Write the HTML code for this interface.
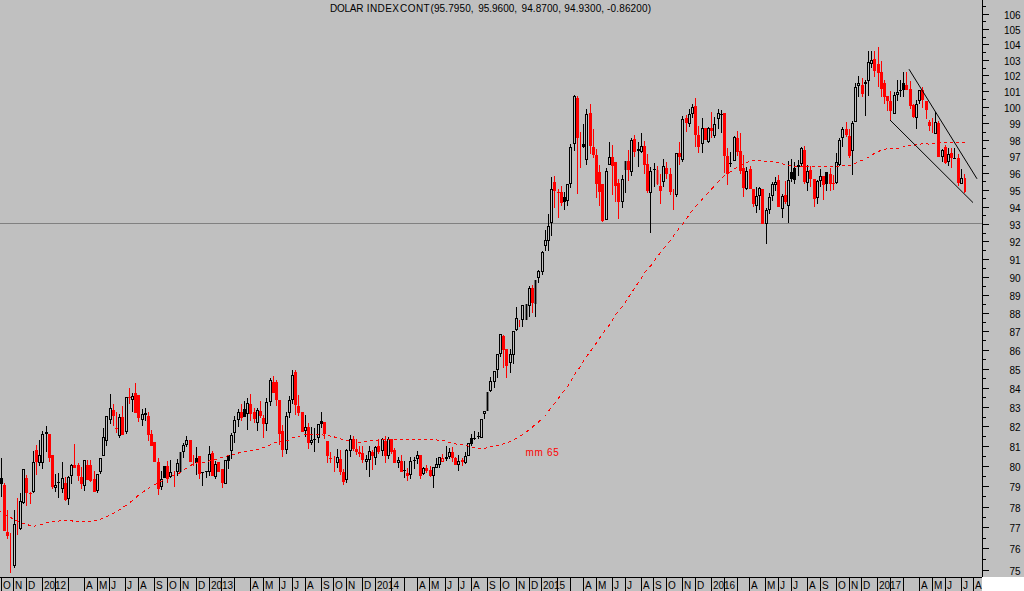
<!DOCTYPE html>
<html><head><meta charset="utf-8"><title>DOLAR INDEX CONT</title>
<style>
html,body{margin:0;padding:0;background:#c0c0c0;overflow:hidden}
body{width:1024px;height:591px;position:relative;font-family:"Liberation Sans",sans-serif}
.t{font-family:"Liberation Sans",sans-serif;font-size:10px;fill:#000}
</style></head><body>
<svg width="1024" height="591" viewBox="0 0 1024 591" style="position:absolute;left:0;top:0;display:block">
<rect x="0" y="0" width="1024" height="591" fill="#c0c0c0"/>
<rect x="982" y="577" width="42" height="14" fill="#ffffff"/>
<rect x="0" y="223" width="982" height="1" fill="#808080"/>
<rect x="1" y="458" width="1" height="39" fill="#000000"/>
<rect x="0" y="478" width="3" height="6" fill="#000000"/>
<rect x="4" y="483" width="1" height="48" fill="#ff0000"/>
<rect x="3" y="485" width="3" height="46" fill="#ff0000"/>
<rect x="7" y="510" width="1" height="29" fill="#ff0000"/>
<rect x="6" y="532" width="3" height="4" fill="#ff0000"/>
<rect x="10" y="533" width="1" height="40" fill="#ff0000"/>
<rect x="14" y="510" width="1" height="14" fill="#000000"/>
<rect x="14" y="566" width="1" height="2" fill="#000000"/>
<rect x="13.5" y="524.5" width="2" height="41" fill="#c0c0c0" stroke="#000000" stroke-width="1"/>
<rect x="17" y="498" width="1" height="37" fill="#ff0000"/>
<rect x="20" y="493" width="1" height="8" fill="#000000"/>
<rect x="20" y="529" width="1" height="1" fill="#000000"/>
<rect x="19.5" y="501.5" width="2" height="27" fill="#c0c0c0" stroke="#000000" stroke-width="1"/>
<rect x="23" y="503" width="1" height="1" fill="#000000"/>
<rect x="22.5" y="469.5" width="2" height="33" fill="#c0c0c0" stroke="#000000" stroke-width="1"/>
<rect x="26" y="475" width="1" height="31" fill="#ff0000"/>
<rect x="25" y="478" width="3" height="15" fill="#ff0000"/>
<rect x="30" y="492" width="1" height="12" fill="#ff0000"/>
<rect x="29" y="493" width="3" height="1" fill="#ff0000"/>
<rect x="33" y="451" width="1" height="11" fill="#000000"/>
<rect x="33" y="492" width="1" height="1" fill="#000000"/>
<rect x="32.5" y="462.5" width="2" height="29" fill="#c0c0c0" stroke="#000000" stroke-width="1"/>
<rect x="36" y="445" width="1" height="30" fill="#ff0000"/>
<rect x="35" y="450" width="3" height="12" fill="#ff0000"/>
<rect x="39" y="440" width="1" height="15" fill="#000000"/>
<rect x="39" y="463" width="1" height="3" fill="#000000"/>
<rect x="38.5" y="455.5" width="2" height="7" fill="#c0c0c0" stroke="#000000" stroke-width="1"/>
<rect x="42" y="431" width="1" height="3" fill="#000000"/>
<rect x="42" y="463" width="1" height="6" fill="#000000"/>
<rect x="41.5" y="434.5" width="2" height="28" fill="#c0c0c0" stroke="#000000" stroke-width="1"/>
<rect x="46" y="426" width="1" height="6" fill="#000000"/>
<rect x="46" y="434" width="1" height="18" fill="#000000"/>
<rect x="45.5" y="432.5" width="2" height="1" fill="#c0c0c0" stroke="#000000" stroke-width="1"/>
<rect x="49" y="434" width="1" height="28" fill="#ff0000"/>
<rect x="48" y="434" width="3" height="24" fill="#ff0000"/>
<rect x="52" y="455" width="1" height="34" fill="#ff0000"/>
<rect x="51" y="455" width="3" height="32" fill="#ff0000"/>
<rect x="55" y="474" width="1" height="11" fill="#000000"/>
<rect x="55" y="488" width="1" height="4" fill="#000000"/>
<rect x="54.5" y="485.5" width="2" height="2" fill="#c0c0c0" stroke="#000000" stroke-width="1"/>
<rect x="58" y="473" width="1" height="25" fill="#000000"/>
<rect x="57" y="482" width="3" height="1" fill="#000000"/>
<rect x="62" y="462" width="1" height="16" fill="#000000"/>
<rect x="62" y="489" width="1" height="4" fill="#000000"/>
<rect x="61.5" y="478.5" width="2" height="10" fill="#c0c0c0" stroke="#000000" stroke-width="1"/>
<rect x="65" y="477" width="1" height="24" fill="#ff0000"/>
<rect x="64" y="483" width="3" height="17" fill="#ff0000"/>
<rect x="68" y="476" width="1" height="1" fill="#000000"/>
<rect x="68" y="499" width="1" height="6" fill="#000000"/>
<rect x="67.5" y="477.5" width="2" height="21" fill="#c0c0c0" stroke="#000000" stroke-width="1"/>
<rect x="71" y="464" width="1" height="1" fill="#000000"/>
<rect x="71" y="476" width="1" height="8" fill="#000000"/>
<rect x="70.5" y="465.5" width="2" height="10" fill="#c0c0c0" stroke="#000000" stroke-width="1"/>
<rect x="74" y="444" width="1" height="24" fill="#ff0000"/>
<rect x="73" y="465" width="3" height="3" fill="#ff0000"/>
<rect x="78" y="463" width="1" height="18" fill="#ff0000"/>
<rect x="77" y="465" width="3" height="11" fill="#ff0000"/>
<rect x="81" y="467" width="1" height="22" fill="#ff0000"/>
<rect x="80" y="477" width="3" height="7" fill="#ff0000"/>
<rect x="84" y="486" width="1" height="5" fill="#000000"/>
<rect x="83.5" y="460.5" width="2" height="25" fill="#c0c0c0" stroke="#000000" stroke-width="1"/>
<rect x="87" y="460" width="1" height="20" fill="#ff0000"/>
<rect x="86" y="465" width="3" height="15" fill="#ff0000"/>
<rect x="90" y="460" width="1" height="22" fill="#ff0000"/>
<rect x="89" y="465" width="3" height="16" fill="#ff0000"/>
<rect x="94" y="471" width="1" height="21" fill="#ff0000"/>
<rect x="93" y="479" width="3" height="13" fill="#ff0000"/>
<rect x="97" y="491" width="1" height="2" fill="#000000"/>
<rect x="96.5" y="474.5" width="2" height="16" fill="#c0c0c0" stroke="#000000" stroke-width="1"/>
<rect x="100" y="472" width="1" height="2" fill="#000000"/>
<rect x="99.5" y="458.5" width="2" height="13" fill="#c0c0c0" stroke="#000000" stroke-width="1"/>
<rect x="103" y="428" width="1" height="9" fill="#000000"/>
<rect x="102.5" y="437.5" width="2" height="18" fill="#c0c0c0" stroke="#000000" stroke-width="1"/>
<rect x="106" y="441" width="1" height="5" fill="#000000"/>
<rect x="105.5" y="416.5" width="2" height="24" fill="#c0c0c0" stroke="#000000" stroke-width="1"/>
<rect x="110" y="394" width="1" height="14" fill="#000000"/>
<rect x="110" y="420" width="1" height="4" fill="#000000"/>
<rect x="109.5" y="408.5" width="2" height="11" fill="#c0c0c0" stroke="#000000" stroke-width="1"/>
<rect x="113" y="404" width="1" height="22" fill="#ff0000"/>
<rect x="112" y="410" width="3" height="6" fill="#ff0000"/>
<rect x="116" y="412" width="1" height="21" fill="#ff0000"/>
<rect x="115" y="428" width="3" height="1" fill="#ff0000"/>
<rect x="119" y="414" width="1" height="3" fill="#000000"/>
<rect x="119" y="436" width="1" height="2" fill="#000000"/>
<rect x="118.5" y="417.5" width="2" height="18" fill="#c0c0c0" stroke="#000000" stroke-width="1"/>
<rect x="122" y="406" width="1" height="29" fill="#ff0000"/>
<rect x="121" y="417" width="3" height="18" fill="#ff0000"/>
<rect x="126" y="432" width="1" height="2" fill="#000000"/>
<rect x="125.5" y="397.5" width="2" height="34" fill="#c0c0c0" stroke="#000000" stroke-width="1"/>
<rect x="129" y="388" width="1" height="16" fill="#ff0000"/>
<rect x="128" y="397" width="3" height="1" fill="#ff0000"/>
<rect x="132" y="393" width="1" height="3" fill="#000000"/>
<rect x="132" y="400" width="1" height="12" fill="#000000"/>
<rect x="131.5" y="396.5" width="2" height="3" fill="#c0c0c0" stroke="#000000" stroke-width="1"/>
<rect x="135" y="383" width="1" height="30" fill="#ff0000"/>
<rect x="134" y="393" width="3" height="20" fill="#ff0000"/>
<rect x="138" y="395" width="1" height="27" fill="#ff0000"/>
<rect x="137" y="395" width="3" height="23" fill="#ff0000"/>
<rect x="142" y="409" width="1" height="5" fill="#000000"/>
<rect x="142" y="420" width="1" height="6" fill="#000000"/>
<rect x="141.5" y="414.5" width="2" height="5" fill="#c0c0c0" stroke="#000000" stroke-width="1"/>
<rect x="145" y="408" width="1" height="13" fill="#000000"/>
<rect x="144" y="413" width="3" height="2" fill="#000000"/>
<rect x="148" y="412" width="1" height="29" fill="#ff0000"/>
<rect x="147" y="416" width="3" height="19" fill="#ff0000"/>
<rect x="151" y="430" width="1" height="16" fill="#ff0000"/>
<rect x="150" y="434" width="3" height="12" fill="#ff0000"/>
<rect x="154" y="442" width="1" height="20" fill="#ff0000"/>
<rect x="153" y="442" width="3" height="20" fill="#ff0000"/>
<rect x="158" y="458" width="1" height="37" fill="#ff0000"/>
<rect x="157" y="462" width="3" height="27" fill="#ff0000"/>
<rect x="161" y="471" width="1" height="8" fill="#000000"/>
<rect x="161" y="487" width="1" height="3" fill="#000000"/>
<rect x="160.5" y="479.5" width="2" height="7" fill="#c0c0c0" stroke="#000000" stroke-width="1"/>
<rect x="164" y="466" width="1" height="12" fill="#000000"/>
<rect x="163" y="466" width="3" height="12" fill="#000000"/>
<rect x="167" y="461" width="1" height="22" fill="#ff0000"/>
<rect x="166" y="466" width="3" height="13" fill="#ff0000"/>
<rect x="170" y="460" width="1" height="12" fill="#000000"/>
<rect x="170" y="477" width="1" height="1" fill="#000000"/>
<rect x="169.5" y="472.5" width="2" height="4" fill="#c0c0c0" stroke="#000000" stroke-width="1"/>
<rect x="174" y="471" width="1" height="16" fill="#ff0000"/>
<rect x="177" y="459" width="1" height="4" fill="#000000"/>
<rect x="177" y="472" width="1" height="4" fill="#000000"/>
<rect x="176.5" y="463.5" width="2" height="8" fill="#c0c0c0" stroke="#000000" stroke-width="1"/>
<rect x="180" y="452" width="1" height="20" fill="#000000"/>
<rect x="179.6" y="452" width="1.8" height="20" fill="#000000"/>
<rect x="183" y="443" width="1" height="2" fill="#000000"/>
<rect x="183" y="452" width="1" height="6" fill="#000000"/>
<rect x="182.5" y="445.5" width="2" height="6" fill="#c0c0c0" stroke="#000000" stroke-width="1"/>
<rect x="186" y="436" width="1" height="4" fill="#000000"/>
<rect x="186" y="445" width="1" height="2" fill="#000000"/>
<rect x="185.5" y="440.5" width="2" height="4" fill="#c0c0c0" stroke="#000000" stroke-width="1"/>
<rect x="190" y="440" width="1" height="22" fill="#ff0000"/>
<rect x="189" y="440" width="3" height="22" fill="#ff0000"/>
<rect x="193" y="455" width="1" height="11" fill="#ff0000"/>
<rect x="196" y="447" width="1" height="28" fill="#000000"/>
<rect x="195" y="458" width="3" height="5" fill="#000000"/>
<rect x="199" y="456" width="1" height="23" fill="#ff0000"/>
<rect x="198" y="456" width="3" height="18" fill="#ff0000"/>
<rect x="202" y="472" width="1" height="14" fill="#000000"/>
<rect x="201" y="472" width="3" height="1" fill="#000000"/>
<rect x="206" y="471" width="1" height="7" fill="#000000"/>
<rect x="205" y="471" width="3" height="1" fill="#000000"/>
<rect x="209" y="446" width="1" height="8" fill="#000000"/>
<rect x="209" y="472" width="1" height="4" fill="#000000"/>
<rect x="208.5" y="454.5" width="2" height="17" fill="#c0c0c0" stroke="#000000" stroke-width="1"/>
<rect x="212" y="451" width="1" height="25" fill="#ff0000"/>
<rect x="211" y="453" width="3" height="23" fill="#ff0000"/>
<rect x="215" y="461" width="1" height="3" fill="#000000"/>
<rect x="215" y="477" width="1" height="2" fill="#000000"/>
<rect x="214.5" y="464.5" width="2" height="12" fill="#c0c0c0" stroke="#000000" stroke-width="1"/>
<rect x="218" y="462" width="1" height="10" fill="#ff0000"/>
<rect x="217" y="462" width="3" height="10" fill="#ff0000"/>
<rect x="222" y="469" width="1" height="19" fill="#ff0000"/>
<rect x="221" y="469" width="3" height="14" fill="#ff0000"/>
<rect x="224.5" y="460.5" width="2" height="23" fill="#c0c0c0" stroke="#000000" stroke-width="1"/>
<rect x="228" y="455" width="1" height="14" fill="#000000"/>
<rect x="227" y="455" width="3" height="6" fill="#000000"/>
<rect x="231" y="433" width="1" height="2" fill="#000000"/>
<rect x="231" y="451" width="1" height="8" fill="#000000"/>
<rect x="230.5" y="435.5" width="2" height="15" fill="#c0c0c0" stroke="#000000" stroke-width="1"/>
<rect x="234" y="416" width="1" height="4" fill="#000000"/>
<rect x="234" y="433" width="1" height="10" fill="#000000"/>
<rect x="233.5" y="420.5" width="2" height="12" fill="#c0c0c0" stroke="#000000" stroke-width="1"/>
<rect x="238" y="409" width="1" height="3" fill="#000000"/>
<rect x="238" y="420" width="1" height="7" fill="#000000"/>
<rect x="237.5" y="412.5" width="2" height="7" fill="#c0c0c0" stroke="#000000" stroke-width="1"/>
<rect x="241" y="404" width="1" height="17" fill="#ff0000"/>
<rect x="240" y="412" width="3" height="6" fill="#ff0000"/>
<rect x="244" y="401" width="1" height="16" fill="#000000"/>
<rect x="243" y="409" width="3" height="8" fill="#000000"/>
<rect x="247" y="398" width="1" height="5" fill="#000000"/>
<rect x="247" y="414" width="1" height="16" fill="#000000"/>
<rect x="246.5" y="403.5" width="2" height="10" fill="#c0c0c0" stroke="#000000" stroke-width="1"/>
<rect x="250" y="394" width="1" height="27" fill="#ff0000"/>
<rect x="249" y="404" width="3" height="10" fill="#ff0000"/>
<rect x="254" y="408" width="1" height="15" fill="#ff0000"/>
<rect x="253" y="412" width="3" height="7" fill="#ff0000"/>
<rect x="257" y="408" width="1" height="2" fill="#000000"/>
<rect x="257" y="423" width="1" height="8" fill="#000000"/>
<rect x="256.5" y="410.5" width="2" height="12" fill="#c0c0c0" stroke="#000000" stroke-width="1"/>
<rect x="260" y="401" width="1" height="17" fill="#ff0000"/>
<rect x="259" y="411" width="3" height="5" fill="#ff0000"/>
<rect x="263" y="415" width="1" height="23" fill="#ff0000"/>
<rect x="262" y="418" width="3" height="6" fill="#ff0000"/>
<rect x="266" y="398" width="1" height="4" fill="#000000"/>
<rect x="266" y="424" width="1" height="7" fill="#000000"/>
<rect x="265.5" y="402.5" width="2" height="21" fill="#c0c0c0" stroke="#000000" stroke-width="1"/>
<rect x="270" y="378" width="1" height="2" fill="#000000"/>
<rect x="270" y="402" width="1" height="4" fill="#000000"/>
<rect x="269.5" y="380.5" width="2" height="21" fill="#c0c0c0" stroke="#000000" stroke-width="1"/>
<rect x="273" y="376" width="1" height="17" fill="#ff0000"/>
<rect x="272" y="382" width="3" height="11" fill="#ff0000"/>
<rect x="276" y="380" width="1" height="26" fill="#ff0000"/>
<rect x="275" y="382" width="3" height="18" fill="#ff0000"/>
<rect x="279" y="400" width="1" height="45" fill="#ff0000"/>
<rect x="278" y="400" width="3" height="34" fill="#ff0000"/>
<rect x="282" y="425" width="1" height="32" fill="#ff0000"/>
<rect x="281" y="431" width="3" height="19" fill="#ff0000"/>
<rect x="286" y="412" width="1" height="4" fill="#000000"/>
<rect x="286" y="450" width="1" height="4" fill="#000000"/>
<rect x="285.5" y="416.5" width="2" height="33" fill="#c0c0c0" stroke="#000000" stroke-width="1"/>
<rect x="289" y="396" width="1" height="4" fill="#000000"/>
<rect x="289" y="413" width="1" height="5" fill="#000000"/>
<rect x="288.5" y="400.5" width="2" height="12" fill="#c0c0c0" stroke="#000000" stroke-width="1"/>
<rect x="292" y="370" width="1" height="5" fill="#000000"/>
<rect x="292" y="400" width="1" height="4" fill="#000000"/>
<rect x="291.5" y="375.5" width="2" height="24" fill="#c0c0c0" stroke="#000000" stroke-width="1"/>
<rect x="295" y="370" width="1" height="45" fill="#ff0000"/>
<rect x="294" y="372" width="3" height="33" fill="#ff0000"/>
<rect x="298" y="395" width="1" height="21" fill="#ff0000"/>
<rect x="297" y="406" width="3" height="7" fill="#ff0000"/>
<rect x="302" y="412" width="1" height="20" fill="#ff0000"/>
<rect x="301" y="412" width="3" height="20" fill="#ff0000"/>
<rect x="305" y="415" width="1" height="12" fill="#000000"/>
<rect x="305" y="431" width="1" height="6" fill="#000000"/>
<rect x="304.5" y="427.5" width="2" height="3" fill="#c0c0c0" stroke="#000000" stroke-width="1"/>
<rect x="308" y="423" width="1" height="26" fill="#ff0000"/>
<rect x="307" y="427" width="3" height="16" fill="#ff0000"/>
<rect x="311" y="427" width="1" height="13" fill="#000000"/>
<rect x="311" y="443" width="1" height="2" fill="#000000"/>
<rect x="310.5" y="440.5" width="2" height="2" fill="#c0c0c0" stroke="#000000" stroke-width="1"/>
<rect x="314" y="428" width="1" height="24" fill="#000000"/>
<rect x="313" y="439" width="3" height="1" fill="#000000"/>
<rect x="318" y="438" width="1" height="5" fill="#000000"/>
<rect x="317.5" y="424.5" width="2" height="13" fill="#c0c0c0" stroke="#000000" stroke-width="1"/>
<rect x="321" y="412" width="1" height="16" fill="#000000"/>
<rect x="320" y="421" width="3" height="3" fill="#000000"/>
<rect x="324" y="422" width="1" height="17" fill="#ff0000"/>
<rect x="323" y="422" width="3" height="12" fill="#ff0000"/>
<rect x="327" y="441" width="1" height="22" fill="#ff0000"/>
<rect x="326" y="441" width="3" height="15" fill="#ff0000"/>
<rect x="330" y="452" width="1" height="11" fill="#ff0000"/>
<rect x="329" y="458" width="3" height="1" fill="#ff0000"/>
<rect x="334" y="456" width="1" height="16" fill="#ff0000"/>
<rect x="337" y="449" width="1" height="8" fill="#000000"/>
<rect x="337" y="463" width="1" height="5" fill="#000000"/>
<rect x="336.5" y="457.5" width="2" height="5" fill="#c0c0c0" stroke="#000000" stroke-width="1"/>
<rect x="340" y="450" width="1" height="25" fill="#ff0000"/>
<rect x="339" y="459" width="3" height="13" fill="#ff0000"/>
<rect x="343" y="469" width="1" height="16" fill="#ff0000"/>
<rect x="342" y="472" width="3" height="10" fill="#ff0000"/>
<rect x="346" y="449" width="1" height="1" fill="#000000"/>
<rect x="346" y="480" width="1" height="3" fill="#000000"/>
<rect x="345.5" y="450.5" width="2" height="29" fill="#c0c0c0" stroke="#000000" stroke-width="1"/>
<rect x="350" y="435" width="1" height="4" fill="#000000"/>
<rect x="350" y="451" width="1" height="6" fill="#000000"/>
<rect x="349.5" y="439.5" width="2" height="11" fill="#c0c0c0" stroke="#000000" stroke-width="1"/>
<rect x="353" y="436" width="1" height="15" fill="#ff0000"/>
<rect x="352" y="439" width="3" height="10" fill="#ff0000"/>
<rect x="356" y="439" width="1" height="16" fill="#ff0000"/>
<rect x="355" y="449" width="3" height="3" fill="#ff0000"/>
<rect x="359" y="446" width="1" height="11" fill="#ff0000"/>
<rect x="358" y="452" width="3" height="2" fill="#ff0000"/>
<rect x="362" y="446" width="1" height="17" fill="#ff0000"/>
<rect x="361" y="453" width="3" height="7" fill="#ff0000"/>
<rect x="366" y="455" width="1" height="4" fill="#000000"/>
<rect x="366" y="462" width="1" height="8" fill="#000000"/>
<rect x="365.5" y="459.5" width="2" height="2" fill="#c0c0c0" stroke="#000000" stroke-width="1"/>
<rect x="369" y="446" width="1" height="5" fill="#000000"/>
<rect x="369" y="460" width="1" height="17" fill="#000000"/>
<rect x="368.5" y="451.5" width="2" height="8" fill="#c0c0c0" stroke="#000000" stroke-width="1"/>
<rect x="372" y="450" width="1" height="20" fill="#ff0000"/>
<rect x="371" y="452" width="3" height="4" fill="#ff0000"/>
<rect x="375" y="446" width="1" height="1" fill="#000000"/>
<rect x="375" y="458" width="1" height="7" fill="#000000"/>
<rect x="374.5" y="447.5" width="2" height="10" fill="#c0c0c0" stroke="#000000" stroke-width="1"/>
<rect x="378" y="439" width="1" height="15" fill="#ff0000"/>
<rect x="377" y="446" width="3" height="6" fill="#ff0000"/>
<rect x="382" y="438" width="1" height="1" fill="#000000"/>
<rect x="382" y="451" width="1" height="5" fill="#000000"/>
<rect x="381.5" y="439.5" width="2" height="11" fill="#c0c0c0" stroke="#000000" stroke-width="1"/>
<rect x="385" y="436" width="1" height="27" fill="#ff0000"/>
<rect x="384" y="441" width="3" height="15" fill="#ff0000"/>
<rect x="388" y="437" width="1" height="2" fill="#000000"/>
<rect x="388" y="456" width="1" height="3" fill="#000000"/>
<rect x="387.5" y="439.5" width="2" height="16" fill="#c0c0c0" stroke="#000000" stroke-width="1"/>
<rect x="391" y="439" width="1" height="15" fill="#ff0000"/>
<rect x="390" y="439" width="3" height="13" fill="#ff0000"/>
<rect x="394" y="448" width="1" height="15" fill="#ff0000"/>
<rect x="393" y="450" width="3" height="13" fill="#ff0000"/>
<rect x="398" y="457" width="1" height="3" fill="#000000"/>
<rect x="398" y="463" width="1" height="5" fill="#000000"/>
<rect x="397.5" y="460.5" width="2" height="2" fill="#c0c0c0" stroke="#000000" stroke-width="1"/>
<rect x="401" y="455" width="1" height="17" fill="#ff0000"/>
<rect x="400" y="461" width="3" height="11" fill="#ff0000"/>
<rect x="404" y="461" width="1" height="17" fill="#000000"/>
<rect x="403" y="470" width="3" height="1" fill="#000000"/>
<rect x="407" y="468" width="1" height="13" fill="#ff0000"/>
<rect x="406" y="473" width="3" height="3" fill="#ff0000"/>
<rect x="410" y="457" width="1" height="4" fill="#000000"/>
<rect x="410" y="475" width="1" height="4" fill="#000000"/>
<rect x="409.5" y="461.5" width="2" height="13" fill="#c0c0c0" stroke="#000000" stroke-width="1"/>
<rect x="414" y="457" width="1" height="12" fill="#000000"/>
<rect x="413" y="460" width="3" height="1" fill="#000000"/>
<rect x="417" y="451" width="1" height="4" fill="#000000"/>
<rect x="417" y="459" width="1" height="5" fill="#000000"/>
<rect x="416.5" y="455.5" width="2" height="3" fill="#c0c0c0" stroke="#000000" stroke-width="1"/>
<rect x="420" y="455" width="1" height="24" fill="#ff0000"/>
<rect x="419" y="455" width="3" height="21" fill="#ff0000"/>
<rect x="423" y="467" width="1" height="1" fill="#000000"/>
<rect x="423" y="474" width="1" height="1" fill="#000000"/>
<rect x="422.5" y="468.5" width="2" height="5" fill="#c0c0c0" stroke="#000000" stroke-width="1"/>
<rect x="426" y="465" width="1" height="8" fill="#ff0000"/>
<rect x="425" y="468" width="3" height="3" fill="#ff0000"/>
<rect x="430" y="466" width="1" height="11" fill="#ff0000"/>
<rect x="429" y="470" width="3" height="6" fill="#ff0000"/>
<rect x="433" y="476" width="1" height="12" fill="#000000"/>
<rect x="432.5" y="467.5" width="2" height="8" fill="#c0c0c0" stroke="#000000" stroke-width="1"/>
<rect x="436" y="458" width="1" height="6" fill="#000000"/>
<rect x="435.5" y="464.5" width="2" height="3" fill="#c0c0c0" stroke="#000000" stroke-width="1"/>
<rect x="439" y="465" width="1" height="3" fill="#000000"/>
<rect x="438.5" y="457.5" width="2" height="7" fill="#c0c0c0" stroke="#000000" stroke-width="1"/>
<rect x="442" y="454" width="1" height="4" fill="#ff0000"/>
<rect x="441.5" y="458.5" width="2" height="3" fill="#c0c0c0" stroke="#ff0000" stroke-width="1"/>
<rect x="446" y="446" width="1" height="15" fill="#000000"/>
<rect x="445" y="457" width="3" height="2" fill="#000000"/>
<rect x="449" y="448" width="1" height="4" fill="#000000"/>
<rect x="449" y="457" width="1" height="2" fill="#000000"/>
<rect x="448.5" y="452.5" width="2" height="4" fill="#c0c0c0" stroke="#000000" stroke-width="1"/>
<rect x="452" y="447" width="1" height="15" fill="#ff0000"/>
<rect x="451" y="452" width="3" height="6" fill="#ff0000"/>
<rect x="455" y="457" width="1" height="8" fill="#ff0000"/>
<rect x="454" y="458" width="3" height="7" fill="#ff0000"/>
<rect x="458" y="455" width="1" height="6" fill="#000000"/>
<rect x="458" y="465" width="1" height="6" fill="#000000"/>
<rect x="457.5" y="461.5" width="2" height="3" fill="#c0c0c0" stroke="#000000" stroke-width="1"/>
<rect x="462" y="458" width="1" height="8" fill="#ff0000"/>
<rect x="461" y="460" width="3" height="2" fill="#ff0000"/>
<rect x="465" y="452" width="1" height="4" fill="#000000"/>
<rect x="465" y="463" width="1" height="1" fill="#000000"/>
<rect x="464.5" y="456.5" width="2" height="6" fill="#c0c0c0" stroke="#000000" stroke-width="1"/>
<rect x="467.5" y="443.5" width="2" height="12" fill="#c0c0c0" stroke="#000000" stroke-width="1"/>
<rect x="471" y="434" width="1" height="12" fill="#000000"/>
<rect x="470" y="438" width="3" height="6" fill="#000000"/>
<rect x="474" y="431" width="1" height="9" fill="#000000"/>
<rect x="473" y="438" width="3" height="1" fill="#000000"/>
<rect x="478" y="432" width="1" height="7" fill="#000000"/>
<rect x="477" y="436" width="3" height="1" fill="#000000"/>
<rect x="480.5" y="419.5" width="2" height="18" fill="#c0c0c0" stroke="#000000" stroke-width="1"/>
<rect x="484" y="414" width="1" height="5" fill="#000000"/>
<rect x="483.5" y="411.5" width="2" height="2" fill="#c0c0c0" stroke="#000000" stroke-width="1"/>
<rect x="487" y="392" width="1" height="19" fill="#000000"/>
<rect x="486.6" y="392" width="1.8" height="19" fill="#000000"/>
<rect x="490" y="377" width="1" height="4" fill="#000000"/>
<rect x="490" y="391" width="1" height="1" fill="#000000"/>
<rect x="489.5" y="381.5" width="2" height="9" fill="#c0c0c0" stroke="#000000" stroke-width="1"/>
<rect x="494" y="382" width="1" height="6" fill="#000000"/>
<rect x="493.5" y="371.5" width="2" height="10" fill="#c0c0c0" stroke="#000000" stroke-width="1"/>
<rect x="497" y="370" width="1" height="8" fill="#000000"/>
<rect x="496.5" y="354.5" width="2" height="15" fill="#c0c0c0" stroke="#000000" stroke-width="1"/>
<rect x="500" y="354" width="1" height="3" fill="#000000"/>
<rect x="499.5" y="334.5" width="2" height="19" fill="#c0c0c0" stroke="#000000" stroke-width="1"/>
<rect x="503" y="335" width="1" height="33" fill="#ff0000"/>
<rect x="502" y="336" width="3" height="14" fill="#ff0000"/>
<rect x="506" y="349" width="1" height="29" fill="#ff0000"/>
<rect x="505" y="349" width="3" height="17" fill="#ff0000"/>
<rect x="510" y="349" width="1" height="5" fill="#000000"/>
<rect x="510" y="363" width="1" height="10" fill="#000000"/>
<rect x="509.5" y="354.5" width="2" height="8" fill="#c0c0c0" stroke="#000000" stroke-width="1"/>
<rect x="513" y="355" width="1" height="9" fill="#000000"/>
<rect x="512.5" y="331.5" width="2" height="23" fill="#c0c0c0" stroke="#000000" stroke-width="1"/>
<rect x="516" y="307" width="1" height="11" fill="#000000"/>
<rect x="516" y="330" width="1" height="1" fill="#000000"/>
<rect x="515.5" y="318.5" width="2" height="11" fill="#c0c0c0" stroke="#000000" stroke-width="1"/>
<rect x="519" y="320" width="1" height="7" fill="#ff0000"/>
<rect x="522" y="320" width="1" height="7" fill="#000000"/>
<rect x="521.5" y="305.5" width="2" height="14" fill="#c0c0c0" stroke="#000000" stroke-width="1"/>
<rect x="526" y="304" width="1" height="16" fill="#000000"/>
<rect x="525.6" y="304" width="1.8" height="16" fill="#000000"/>
<rect x="529" y="286" width="1" height="2" fill="#000000"/>
<rect x="529" y="306" width="1" height="11" fill="#000000"/>
<rect x="528.5" y="288.5" width="2" height="17" fill="#c0c0c0" stroke="#000000" stroke-width="1"/>
<rect x="532" y="285" width="1" height="28" fill="#ff0000"/>
<rect x="531" y="288" width="3" height="15" fill="#ff0000"/>
<rect x="535" y="280" width="1" height="37" fill="#000000"/>
<rect x="534.6" y="280" width="1.8" height="24" fill="#000000"/>
<rect x="538" y="270" width="1" height="1" fill="#000000"/>
<rect x="538" y="278" width="1" height="5" fill="#000000"/>
<rect x="537.5" y="271.5" width="2" height="6" fill="#c0c0c0" stroke="#000000" stroke-width="1"/>
<rect x="542" y="251" width="1" height="1" fill="#000000"/>
<rect x="542" y="272" width="1" height="3" fill="#000000"/>
<rect x="541.5" y="252.5" width="2" height="19" fill="#c0c0c0" stroke="#000000" stroke-width="1"/>
<rect x="545" y="230" width="1" height="10" fill="#000000"/>
<rect x="545" y="246" width="1" height="5" fill="#000000"/>
<rect x="544.5" y="240.5" width="2" height="5" fill="#c0c0c0" stroke="#000000" stroke-width="1"/>
<rect x="548" y="214" width="1" height="12" fill="#000000"/>
<rect x="548" y="241" width="1" height="10" fill="#000000"/>
<rect x="547.5" y="226.5" width="2" height="14" fill="#c0c0c0" stroke="#000000" stroke-width="1"/>
<rect x="551" y="177" width="1" height="12" fill="#000000"/>
<rect x="551" y="223" width="1" height="13" fill="#000000"/>
<rect x="550.5" y="189.5" width="2" height="33" fill="#c0c0c0" stroke="#000000" stroke-width="1"/>
<rect x="554" y="176" width="1" height="32" fill="#ff0000"/>
<rect x="553" y="182" width="3" height="9" fill="#ff0000"/>
<rect x="558" y="189" width="1" height="29" fill="#ff0000"/>
<rect x="557" y="192" width="3" height="1" fill="#ff0000"/>
<rect x="561" y="186" width="1" height="20" fill="#ff0000"/>
<rect x="560" y="192" width="3" height="11" fill="#ff0000"/>
<rect x="564" y="192" width="1" height="18" fill="#000000"/>
<rect x="563" y="197" width="3" height="5" fill="#000000"/>
<rect x="567" y="201" width="1" height="5" fill="#000000"/>
<rect x="566.5" y="184.5" width="2" height="16" fill="#c0c0c0" stroke="#000000" stroke-width="1"/>
<rect x="570" y="144" width="1" height="3" fill="#000000"/>
<rect x="570" y="184" width="1" height="4" fill="#000000"/>
<rect x="569.5" y="147.5" width="2" height="36" fill="#c0c0c0" stroke="#000000" stroke-width="1"/>
<rect x="574" y="95" width="1" height="1" fill="#000000"/>
<rect x="574" y="144" width="1" height="7" fill="#000000"/>
<rect x="573.5" y="96.5" width="2" height="47" fill="#c0c0c0" stroke="#000000" stroke-width="1"/>
<rect x="577" y="96" width="1" height="98" fill="#ff0000"/>
<rect x="576" y="98" width="3" height="40" fill="#ff0000"/>
<rect x="580" y="132" width="1" height="36" fill="#ff0000"/>
<rect x="583" y="124" width="1" height="24" fill="#000000"/>
<rect x="582" y="144" width="3" height="3" fill="#000000"/>
<rect x="586" y="109" width="1" height="5" fill="#000000"/>
<rect x="586" y="160" width="1" height="5" fill="#000000"/>
<rect x="585.5" y="114.5" width="2" height="45" fill="#c0c0c0" stroke="#000000" stroke-width="1"/>
<rect x="590" y="104" width="1" height="50" fill="#ff0000"/>
<rect x="589" y="113" width="3" height="33" fill="#ff0000"/>
<rect x="593" y="129" width="1" height="29" fill="#ff0000"/>
<rect x="592" y="147" width="3" height="8" fill="#ff0000"/>
<rect x="596" y="149" width="1" height="49" fill="#ff0000"/>
<rect x="595" y="155" width="3" height="29" fill="#ff0000"/>
<rect x="599" y="165" width="1" height="41" fill="#ff0000"/>
<rect x="598" y="172" width="3" height="20" fill="#ff0000"/>
<rect x="602" y="184" width="1" height="38" fill="#ff0000"/>
<rect x="601" y="184" width="3" height="37" fill="#ff0000"/>
<rect x="606" y="168" width="1" height="3" fill="#000000"/>
<rect x="605.5" y="171.5" width="2" height="48" fill="#c0c0c0" stroke="#000000" stroke-width="1"/>
<rect x="609" y="142" width="1" height="15" fill="#000000"/>
<rect x="608.5" y="157.5" width="2" height="7" fill="#c0c0c0" stroke="#000000" stroke-width="1"/>
<rect x="612" y="145" width="1" height="50" fill="#ff0000"/>
<rect x="611" y="157" width="3" height="9" fill="#ff0000"/>
<rect x="615" y="162" width="1" height="40" fill="#ff0000"/>
<rect x="614" y="162" width="3" height="24" fill="#ff0000"/>
<rect x="618" y="179" width="1" height="40" fill="#ff0000"/>
<rect x="617" y="183" width="3" height="19" fill="#ff0000"/>
<rect x="622" y="175" width="1" height="4" fill="#000000"/>
<rect x="622" y="202" width="1" height="6" fill="#000000"/>
<rect x="621.5" y="179.5" width="2" height="22" fill="#c0c0c0" stroke="#000000" stroke-width="1"/>
<rect x="625" y="161" width="1" height="32" fill="#000000"/>
<rect x="624.6" y="161" width="1.8" height="9" fill="#000000"/>
<rect x="628" y="150" width="1" height="31" fill="#ff0000"/>
<rect x="627" y="161" width="3" height="9" fill="#ff0000"/>
<rect x="631" y="138" width="1" height="2" fill="#000000"/>
<rect x="631" y="172" width="1" height="4" fill="#000000"/>
<rect x="630.5" y="140.5" width="2" height="31" fill="#c0c0c0" stroke="#000000" stroke-width="1"/>
<rect x="634" y="135" width="1" height="22" fill="#ff0000"/>
<rect x="633" y="139" width="3" height="13" fill="#ff0000"/>
<rect x="638" y="142" width="1" height="25" fill="#000000"/>
<rect x="637" y="149" width="3" height="2" fill="#000000"/>
<rect x="641" y="133" width="1" height="13" fill="#000000"/>
<rect x="641" y="152" width="1" height="1" fill="#000000"/>
<rect x="640.5" y="146.5" width="2" height="5" fill="#c0c0c0" stroke="#000000" stroke-width="1"/>
<rect x="644" y="141" width="1" height="33" fill="#ff0000"/>
<rect x="643" y="146" width="3" height="19" fill="#ff0000"/>
<rect x="647" y="154" width="1" height="39" fill="#ff0000"/>
<rect x="646" y="164" width="3" height="27" fill="#ff0000"/>
<rect x="650" y="167" width="1" height="4" fill="#000000"/>
<rect x="650" y="193" width="1" height="40" fill="#000000"/>
<rect x="649.5" y="171.5" width="2" height="21" fill="#c0c0c0" stroke="#000000" stroke-width="1"/>
<rect x="654" y="163" width="1" height="24" fill="#000000"/>
<rect x="653" y="169" width="3" height="1" fill="#000000"/>
<rect x="657" y="166" width="1" height="19" fill="#ff0000"/>
<rect x="656.6" y="170" width="1.8" height="14" fill="#ff0000"/>
<rect x="660" y="174" width="1" height="30" fill="#ff0000"/>
<rect x="659" y="186" width="3" height="5" fill="#ff0000"/>
<rect x="663" y="159" width="1" height="7" fill="#000000"/>
<rect x="663" y="182" width="1" height="5" fill="#000000"/>
<rect x="662.5" y="166.5" width="2" height="15" fill="#c0c0c0" stroke="#000000" stroke-width="1"/>
<rect x="666" y="162" width="1" height="17" fill="#ff0000"/>
<rect x="665" y="168" width="3" height="6" fill="#ff0000"/>
<rect x="670" y="168" width="1" height="27" fill="#ff0000"/>
<rect x="669" y="174" width="3" height="18" fill="#ff0000"/>
<rect x="673" y="189" width="1" height="21" fill="#ff0000"/>
<rect x="676" y="195" width="1" height="2" fill="#000000"/>
<rect x="675.5" y="153.5" width="2" height="41" fill="#c0c0c0" stroke="#000000" stroke-width="1"/>
<rect x="679" y="142" width="1" height="23" fill="#ff0000"/>
<rect x="678" y="153" width="3" height="4" fill="#ff0000"/>
<rect x="682" y="116" width="1" height="3" fill="#000000"/>
<rect x="682" y="160" width="1" height="2" fill="#000000"/>
<rect x="681.5" y="119.5" width="2" height="40" fill="#c0c0c0" stroke="#000000" stroke-width="1"/>
<rect x="686" y="115" width="1" height="17" fill="#ff0000"/>
<rect x="685" y="118" width="3" height="5" fill="#ff0000"/>
<rect x="689" y="109" width="1" height="5" fill="#000000"/>
<rect x="689" y="124" width="1" height="3" fill="#000000"/>
<rect x="688.5" y="114.5" width="2" height="9" fill="#c0c0c0" stroke="#000000" stroke-width="1"/>
<rect x="692" y="104" width="1" height="3" fill="#000000"/>
<rect x="692" y="114" width="1" height="4" fill="#000000"/>
<rect x="691.5" y="107.5" width="2" height="6" fill="#c0c0c0" stroke="#000000" stroke-width="1"/>
<rect x="695" y="98" width="1" height="49" fill="#ff0000"/>
<rect x="694" y="106" width="3" height="29" fill="#ff0000"/>
<rect x="698" y="126" width="1" height="27" fill="#ff0000"/>
<rect x="697" y="135" width="3" height="12" fill="#ff0000"/>
<rect x="702" y="118" width="1" height="10" fill="#000000"/>
<rect x="702" y="144" width="1" height="9" fill="#000000"/>
<rect x="701.5" y="128.5" width="2" height="15" fill="#c0c0c0" stroke="#000000" stroke-width="1"/>
<rect x="705" y="128" width="1" height="12" fill="#ff0000"/>
<rect x="704" y="128" width="3" height="12" fill="#ff0000"/>
<rect x="708" y="127" width="1" height="1" fill="#000000"/>
<rect x="708" y="142" width="1" height="1" fill="#000000"/>
<rect x="707.5" y="128.5" width="2" height="13" fill="#c0c0c0" stroke="#000000" stroke-width="1"/>
<rect x="711" y="112" width="1" height="26" fill="#ff0000"/>
<rect x="710" y="128" width="3" height="3" fill="#ff0000"/>
<rect x="714" y="117" width="1" height="7" fill="#000000"/>
<rect x="714" y="136" width="1" height="2" fill="#000000"/>
<rect x="713.5" y="124.5" width="2" height="11" fill="#c0c0c0" stroke="#000000" stroke-width="1"/>
<rect x="718" y="109" width="1" height="4" fill="#000000"/>
<rect x="718" y="119" width="1" height="10" fill="#000000"/>
<rect x="717.5" y="113.5" width="2" height="5" fill="#c0c0c0" stroke="#000000" stroke-width="1"/>
<rect x="721" y="110" width="1" height="23" fill="#000000"/>
<rect x="720" y="114" width="3" height="1" fill="#000000"/>
<rect x="724" y="113" width="1" height="60" fill="#ff0000"/>
<rect x="723" y="113" width="3" height="43" fill="#ff0000"/>
<rect x="727" y="148" width="1" height="37" fill="#ff0000"/>
<rect x="726" y="156" width="3" height="18" fill="#ff0000"/>
<rect x="730" y="152" width="1" height="15" fill="#000000"/>
<rect x="729" y="163" width="3" height="1" fill="#000000"/>
<rect x="734" y="136" width="1" height="1" fill="#000000"/>
<rect x="733.5" y="137.5" width="2" height="23" fill="#c0c0c0" stroke="#000000" stroke-width="1"/>
<rect x="737" y="131" width="1" height="25" fill="#ff0000"/>
<rect x="736" y="138" width="3" height="14" fill="#ff0000"/>
<rect x="740" y="133" width="1" height="41" fill="#ff0000"/>
<rect x="739" y="151" width="3" height="20" fill="#ff0000"/>
<rect x="743" y="155" width="1" height="42" fill="#ff0000"/>
<rect x="742" y="168" width="3" height="20" fill="#ff0000"/>
<rect x="746" y="167" width="1" height="4" fill="#000000"/>
<rect x="746" y="189" width="1" height="1" fill="#000000"/>
<rect x="745.5" y="171.5" width="2" height="17" fill="#c0c0c0" stroke="#000000" stroke-width="1"/>
<rect x="750" y="166" width="1" height="23" fill="#ff0000"/>
<rect x="749" y="169" width="3" height="20" fill="#ff0000"/>
<rect x="753" y="189" width="1" height="18" fill="#ff0000"/>
<rect x="752" y="189" width="3" height="15" fill="#ff0000"/>
<rect x="756" y="187" width="1" height="9" fill="#000000"/>
<rect x="756" y="206" width="1" height="7" fill="#000000"/>
<rect x="755.5" y="196.5" width="2" height="9" fill="#c0c0c0" stroke="#000000" stroke-width="1"/>
<rect x="759" y="187" width="1" height="1" fill="#000000"/>
<rect x="759" y="196" width="1" height="14" fill="#000000"/>
<rect x="758.5" y="188.5" width="2" height="7" fill="#c0c0c0" stroke="#000000" stroke-width="1"/>
<rect x="762" y="189" width="1" height="35" fill="#ff0000"/>
<rect x="761" y="189" width="3" height="35" fill="#ff0000"/>
<rect x="766" y="208" width="1" height="2" fill="#000000"/>
<rect x="766" y="224" width="1" height="20" fill="#000000"/>
<rect x="765.5" y="210.5" width="2" height="13" fill="#c0c0c0" stroke="#000000" stroke-width="1"/>
<rect x="769" y="193" width="1" height="4" fill="#000000"/>
<rect x="769" y="210" width="1" height="4" fill="#000000"/>
<rect x="768.5" y="197.5" width="2" height="12" fill="#c0c0c0" stroke="#000000" stroke-width="1"/>
<rect x="772" y="182" width="1" height="2" fill="#000000"/>
<rect x="772" y="196" width="1" height="5" fill="#000000"/>
<rect x="771.5" y="184.5" width="2" height="11" fill="#c0c0c0" stroke="#000000" stroke-width="1"/>
<rect x="775" y="177" width="1" height="5" fill="#000000"/>
<rect x="775" y="185" width="1" height="6" fill="#000000"/>
<rect x="774.5" y="182.5" width="2" height="2" fill="#c0c0c0" stroke="#000000" stroke-width="1"/>
<rect x="778" y="175" width="1" height="32" fill="#ff0000"/>
<rect x="777" y="180" width="3" height="27" fill="#ff0000"/>
<rect x="782" y="194" width="1" height="2" fill="#000000"/>
<rect x="782" y="209" width="1" height="9" fill="#000000"/>
<rect x="781.5" y="196.5" width="2" height="12" fill="#c0c0c0" stroke="#000000" stroke-width="1"/>
<rect x="785" y="181" width="1" height="23" fill="#ff0000"/>
<rect x="784" y="195" width="3" height="7" fill="#ff0000"/>
<rect x="788" y="161" width="1" height="19" fill="#000000"/>
<rect x="788" y="206" width="1" height="17" fill="#000000"/>
<rect x="787.5" y="180.5" width="2" height="25" fill="#c0c0c0" stroke="#000000" stroke-width="1"/>
<rect x="791" y="159" width="1" height="23" fill="#000000"/>
<rect x="790" y="172" width="3" height="7" fill="#000000"/>
<rect x="794" y="162" width="1" height="22" fill="#000000"/>
<rect x="793" y="168" width="3" height="12" fill="#000000"/>
<rect x="798" y="160" width="1" height="5" fill="#000000"/>
<rect x="798" y="167" width="1" height="9" fill="#000000"/>
<rect x="797.5" y="165.5" width="2" height="1" fill="#c0c0c0" stroke="#000000" stroke-width="1"/>
<rect x="801" y="147" width="1" height="1" fill="#000000"/>
<rect x="801" y="164" width="1" height="2" fill="#000000"/>
<rect x="800.5" y="148.5" width="2" height="15" fill="#c0c0c0" stroke="#000000" stroke-width="1"/>
<rect x="804" y="146" width="1" height="38" fill="#ff0000"/>
<rect x="803" y="150" width="3" height="32" fill="#ff0000"/>
<rect x="807" y="165" width="1" height="6" fill="#000000"/>
<rect x="807" y="183" width="1" height="8" fill="#000000"/>
<rect x="806.5" y="171.5" width="2" height="11" fill="#c0c0c0" stroke="#000000" stroke-width="1"/>
<rect x="810" y="166" width="1" height="21" fill="#ff0000"/>
<rect x="809" y="170" width="3" height="9" fill="#ff0000"/>
<rect x="814" y="179" width="1" height="28" fill="#ff0000"/>
<rect x="813" y="179" width="3" height="20" fill="#ff0000"/>
<rect x="817" y="180" width="1" height="1" fill="#000000"/>
<rect x="817" y="198" width="1" height="6" fill="#000000"/>
<rect x="816.5" y="181.5" width="2" height="16" fill="#c0c0c0" stroke="#000000" stroke-width="1"/>
<rect x="820" y="169" width="1" height="7" fill="#000000"/>
<rect x="820" y="181" width="1" height="6" fill="#000000"/>
<rect x="819.5" y="176.5" width="2" height="4" fill="#c0c0c0" stroke="#000000" stroke-width="1"/>
<rect x="823" y="176" width="1" height="24" fill="#ff0000"/>
<rect x="822" y="176" width="3" height="9" fill="#ff0000"/>
<rect x="826" y="172" width="1" height="19" fill="#000000"/>
<rect x="825" y="172" width="3" height="12" fill="#000000"/>
<rect x="830" y="168" width="1" height="23" fill="#ff0000"/>
<rect x="829" y="174" width="3" height="10" fill="#ff0000"/>
<rect x="833" y="175" width="1" height="15" fill="#ff0000"/>
<rect x="832" y="183" width="3" height="1" fill="#ff0000"/>
<rect x="836" y="153" width="1" height="9" fill="#000000"/>
<rect x="836" y="183" width="1" height="1" fill="#000000"/>
<rect x="835.5" y="162.5" width="2" height="20" fill="#c0c0c0" stroke="#000000" stroke-width="1"/>
<rect x="839" y="138" width="1" height="2" fill="#000000"/>
<rect x="839" y="165" width="1" height="1" fill="#000000"/>
<rect x="838.5" y="140.5" width="2" height="24" fill="#c0c0c0" stroke="#000000" stroke-width="1"/>
<rect x="842" y="127" width="1" height="2" fill="#000000"/>
<rect x="842" y="138" width="1" height="9" fill="#000000"/>
<rect x="841.5" y="129.5" width="2" height="8" fill="#c0c0c0" stroke="#000000" stroke-width="1"/>
<rect x="846" y="122" width="1" height="15" fill="#ff0000"/>
<rect x="845" y="129" width="3" height="6" fill="#ff0000"/>
<rect x="849" y="129" width="1" height="29" fill="#ff0000"/>
<rect x="848" y="136" width="3" height="20" fill="#ff0000"/>
<rect x="852" y="121" width="1" height="2" fill="#000000"/>
<rect x="852" y="151" width="1" height="24" fill="#000000"/>
<rect x="851.5" y="123.5" width="2" height="27" fill="#c0c0c0" stroke="#000000" stroke-width="1"/>
<rect x="855" y="83" width="1" height="4" fill="#000000"/>
<rect x="854.5" y="87.5" width="2" height="34" fill="#c0c0c0" stroke="#000000" stroke-width="1"/>
<rect x="858" y="76" width="1" height="7" fill="#000000"/>
<rect x="858" y="86" width="1" height="11" fill="#000000"/>
<rect x="857.5" y="83.5" width="2" height="2" fill="#c0c0c0" stroke="#000000" stroke-width="1"/>
<rect x="862" y="78" width="1" height="19" fill="#ff0000"/>
<rect x="861" y="85" width="3" height="9" fill="#ff0000"/>
<rect x="865" y="80" width="1" height="36" fill="#000000"/>
<rect x="864" y="82" width="3" height="2" fill="#000000"/>
<rect x="868" y="51" width="1" height="11" fill="#000000"/>
<rect x="868" y="81" width="1" height="15" fill="#000000"/>
<rect x="867.5" y="62.5" width="2" height="18" fill="#c0c0c0" stroke="#000000" stroke-width="1"/>
<rect x="871" y="51" width="1" height="9" fill="#000000"/>
<rect x="871" y="64" width="1" height="4" fill="#000000"/>
<rect x="870.5" y="60.5" width="2" height="3" fill="#c0c0c0" stroke="#000000" stroke-width="1"/>
<rect x="874" y="51" width="1" height="26" fill="#ff0000"/>
<rect x="873" y="59" width="3" height="12" fill="#ff0000"/>
<rect x="878" y="47" width="1" height="40" fill="#ff0000"/>
<rect x="877" y="64" width="3" height="9" fill="#ff0000"/>
<rect x="881" y="61" width="1" height="36" fill="#ff0000"/>
<rect x="880" y="72" width="3" height="17" fill="#ff0000"/>
<rect x="884" y="80" width="1" height="24" fill="#ff0000"/>
<rect x="883" y="83" width="3" height="14" fill="#ff0000"/>
<rect x="887" y="96" width="1" height="15" fill="#ff0000"/>
<rect x="886" y="96" width="3" height="5" fill="#ff0000"/>
<rect x="890" y="91" width="1" height="29" fill="#ff0000"/>
<rect x="889" y="101" width="3" height="10" fill="#ff0000"/>
<rect x="894" y="92" width="1" height="3" fill="#000000"/>
<rect x="893.5" y="95.5" width="2" height="18" fill="#c0c0c0" stroke="#000000" stroke-width="1"/>
<rect x="897" y="80" width="1" height="12" fill="#000000"/>
<rect x="897" y="95" width="1" height="6" fill="#000000"/>
<rect x="896.5" y="92.5" width="2" height="2" fill="#c0c0c0" stroke="#000000" stroke-width="1"/>
<rect x="900" y="80" width="1" height="17" fill="#000000"/>
<rect x="899" y="90" width="3" height="1" fill="#000000"/>
<rect x="903" y="72" width="1" height="25" fill="#000000"/>
<rect x="902" y="83" width="3" height="7" fill="#000000"/>
<rect x="906" y="72" width="1" height="18" fill="#ff0000"/>
<rect x="905" y="85" width="3" height="5" fill="#ff0000"/>
<rect x="910" y="81" width="1" height="28" fill="#ff0000"/>
<rect x="909" y="89" width="3" height="17" fill="#ff0000"/>
<rect x="913" y="104" width="1" height="14" fill="#ff0000"/>
<rect x="912" y="105" width="3" height="12" fill="#ff0000"/>
<rect x="916" y="100" width="1" height="4" fill="#000000"/>
<rect x="916" y="118" width="1" height="11" fill="#000000"/>
<rect x="915.5" y="104.5" width="2" height="13" fill="#c0c0c0" stroke="#000000" stroke-width="1"/>
<rect x="919" y="101" width="1" height="3" fill="#000000"/>
<rect x="918.5" y="90.5" width="2" height="10" fill="#c0c0c0" stroke="#000000" stroke-width="1"/>
<rect x="922" y="87" width="1" height="21" fill="#ff0000"/>
<rect x="921" y="90" width="3" height="10" fill="#ff0000"/>
<rect x="926" y="101" width="1" height="18" fill="#ff0000"/>
<rect x="925" y="101" width="3" height="9" fill="#ff0000"/>
<rect x="929" y="120" width="1" height="11" fill="#ff0000"/>
<rect x="928" y="122" width="3" height="4" fill="#ff0000"/>
<rect x="932" y="118" width="1" height="15" fill="#ff0000"/>
<rect x="935" y="112" width="1" height="10" fill="#000000"/>
<rect x="934.5" y="122.5" width="2" height="11" fill="#c0c0c0" stroke="#000000" stroke-width="1"/>
<rect x="938" y="121" width="1" height="36" fill="#ff0000"/>
<rect x="937" y="123" width="3" height="34" fill="#ff0000"/>
<rect x="942" y="149" width="1" height="1" fill="#000000"/>
<rect x="942" y="157" width="1" height="5" fill="#000000"/>
<rect x="941.5" y="150.5" width="2" height="6" fill="#c0c0c0" stroke="#000000" stroke-width="1"/>
<rect x="945" y="145" width="1" height="19" fill="#ff0000"/>
<rect x="944" y="147" width="3" height="16" fill="#ff0000"/>
<rect x="948" y="148" width="1" height="6" fill="#000000"/>
<rect x="948" y="162" width="1" height="4" fill="#000000"/>
<rect x="947.5" y="154.5" width="2" height="7" fill="#c0c0c0" stroke="#000000" stroke-width="1"/>
<rect x="951" y="148" width="1" height="20" fill="#ff0000"/>
<rect x="950" y="153" width="3" height="5" fill="#ff0000"/>
<rect x="954" y="148" width="1" height="11" fill="#000000"/>
<rect x="953" y="158" width="3" height="1" fill="#000000"/>
<rect x="958" y="154" width="1" height="32" fill="#ff0000"/>
<rect x="957" y="158" width="3" height="25" fill="#ff0000"/>
<rect x="961" y="169" width="1" height="9" fill="#000000"/>
<rect x="960.5" y="178.5" width="2" height="5" fill="#c0c0c0" stroke="#000000" stroke-width="1"/>
<rect x="964" y="174" width="1" height="19" fill="#ff0000"/>
<rect x="964" y="178" width="2" height="14" fill="#ff0000"/>
<path d="M0.0,511.6 L0.4,511.8 L0.6,511.9M3.7,514.1 L4.1,514.4 L4.5,514.6 L4.9,514.9 L5.3,515.1 L5.7,515.3 L6.1,515.5 L6.5,515.7 L6.6,515.7M9.7,517.2 L10.1,517.4 L10.5,517.5 L10.9,517.7 L11.3,517.9 L11.7,518.1 L12.1,518.3 L12.5,518.5 L12.6,518.5M15.7,520.1 L16.1,520.3 L16.5,520.5 L16.9,520.7 L17.3,520.9 L17.7,521.1 L18.1,521.2 L18.5,521.4 L18.6,521.5M21.7,522.8 L22.1,522.9 L22.5,523.1 L22.9,523.2 L23.3,523.4 L23.7,523.5 L24.1,523.7 L24.5,523.8 L24.6,523.8M27.7,524.8 L28.1,524.9 L28.5,525.0 L28.9,525.2 L29.3,525.3 L29.7,525.4 L30.1,525.5 L30.5,525.5 L30.6,525.6M33.7,525.9 L34.1,526.0 L34.5,526.0 L34.9,526.0 L35.3,526.0 L35.7,525.9 L36.1,525.9 L36.5,525.8 L36.6,525.7M39.7,525.0 L40.1,524.9 L40.5,524.8 L40.9,524.7 L41.3,524.5 L41.7,524.4 L42.1,524.2 L42.5,524.1 L42.6,524.0M45.7,523.1 L46.1,523.0 L46.5,522.9 L46.9,522.8 L47.3,522.7 L47.7,522.6 L48.1,522.5 L48.5,522.4 L48.6,522.3M51.7,521.6 L52.1,521.5 L52.5,521.5 L52.9,521.4 L53.3,521.4 L53.7,521.4 L54.1,521.3 L54.5,521.3 L54.6,521.3M57.7,521.1 L58.1,521.1 L58.5,521.0 L58.9,521.0 L59.3,521.0 L59.7,520.9 L60.1,520.9 L60.5,520.9 L60.6,520.9M63.7,520.8 L64.1,520.8 L64.5,520.8 L64.9,520.8 L65.3,520.8 L65.7,520.8 L66.1,520.8 L66.5,520.8 L66.6,520.8M69.7,520.8 L70.1,520.8 L70.5,520.8 L70.9,520.8 L71.3,520.9 L71.7,520.9 L72.1,520.9 L72.5,521.0 L72.6,521.0M75.7,521.2 L76.1,521.2 L76.5,521.3 L76.9,521.3 L77.3,521.3 L77.7,521.3 L78.1,521.4 L78.5,521.4 L78.6,521.4M81.7,521.5 L82.1,521.5 L82.5,521.5 L82.9,521.5 L83.3,521.5 L83.7,521.5 L84.1,521.5 L84.5,521.5 L84.6,521.5M87.7,521.5 L88.1,521.5 L88.5,521.5 L88.9,521.5 L89.3,521.5 L89.7,521.5 L90.1,521.4 L90.5,521.4 L90.6,521.4M93.7,520.9 L94.1,520.8 L94.5,520.7 L94.9,520.7 L95.3,520.6 L95.7,520.5 L96.1,520.5 L96.5,520.4 L96.6,520.4M99.7,519.7 L100.1,519.5 L100.5,519.4 L100.9,519.2 L101.3,519.0 L101.7,518.9 L102.1,518.7 L102.5,518.5 L102.6,518.5M105.7,517.2 L106.1,517.0 L106.5,516.8 L106.9,516.7 L107.3,516.5 L107.7,516.3 L108.1,516.1 L108.5,515.9 L108.6,515.9M111.7,514.2 L112.1,514.0 L112.5,513.8 L112.9,513.6 L113.3,513.4 L113.7,513.2 L114.1,512.9 L114.5,512.7 L114.6,512.7M117.7,510.8 L118.1,510.6 L118.5,510.4 L118.9,510.1 L119.3,509.9 L119.7,509.7 L120.1,509.4 L120.5,509.1 L120.6,509.1M123.7,506.9 L124.1,506.6 L124.5,506.3 L124.9,506.0 L125.3,505.8 L125.7,505.5 L126.1,505.2 L126.5,504.9 L126.6,504.8M129.7,502.6 L130.1,502.3 L130.5,502.0 L130.9,501.7 L131.3,501.4 L131.7,501.1 L132.1,500.8 L132.5,500.4 L132.6,500.3M135.7,497.6 L136.1,497.3 L136.5,496.9 L136.9,496.6 L137.3,496.2 L137.7,495.9 L138.1,495.6 L138.5,495.3 L138.6,495.2M141.7,493.0 L142.1,492.7 L142.5,492.4 L142.9,492.1 L143.3,491.8 L143.7,491.5 L144.1,491.2 L144.5,490.9 L144.6,490.9M147.7,488.7 L148.1,488.5 L148.5,488.2 L148.9,487.9 L149.3,487.7 L149.7,487.4 L150.1,487.1 L150.5,486.9 L150.6,486.8M153.7,485.1 L154.1,484.9 L154.5,484.7 L154.9,484.5 L155.3,484.3 L155.7,484.0 L156.1,483.8 L156.5,483.6 L156.6,483.6M159.7,482.0 L160.1,481.8 L160.5,481.6 L160.9,481.4 L161.3,481.2 L161.7,481.0 L162.1,480.8 L162.5,480.6 L162.6,480.5M165.7,479.1 L166.1,478.9 L166.5,478.7 L166.9,478.5 L167.3,478.3 L167.7,478.1 L168.1,478.0 L168.5,477.8 L168.6,477.7M171.7,476.3 L172.1,476.1 L172.5,475.9 L172.9,475.8 L173.3,475.6 L173.7,475.4 L174.1,475.2 L174.5,475.0 L174.6,475.0M177.7,473.7 L178.1,473.6 L178.5,473.4 L178.9,473.2 L179.3,473.1 L179.7,472.9 L180.1,472.6 L180.5,472.4 L180.6,472.3M183.7,470.0 L184.1,469.7 L184.5,469.4 L184.9,469.1 L185.3,468.8 L185.7,468.6 L186.1,468.3 L186.5,468.1 L186.6,468.0M189.7,466.1 L190.1,465.8 L190.5,465.6 L190.9,465.3 L191.3,465.1 L191.7,464.9 L192.1,464.7 L192.5,464.6 L192.6,464.5M195.7,463.3 L196.1,463.2 L196.5,463.0 L196.9,462.9 L197.3,462.7 L197.7,462.6 L198.1,462.5 L198.5,462.5 L198.6,462.4M201.7,462.4 L202.1,462.4 L202.5,462.4 L202.9,462.4 L203.3,462.4 L203.7,462.4 L204.1,462.4 L204.5,462.4 L204.6,462.3M207.7,461.4 L208.1,461.3 L208.5,461.1 L208.9,461.0 L209.3,460.9 L209.7,460.8 L210.1,460.7 L210.5,460.6 L210.6,460.6M213.7,460.1 L214.1,460.0 L214.5,459.9 L214.9,459.9 L215.3,459.8 L215.7,459.7 L216.1,459.6 L216.5,459.5 L216.6,459.5M219.7,458.2 L220.1,458.0 L220.5,457.8 L220.9,457.6 L221.3,457.5 L221.7,457.3 L222.1,457.2 L222.5,457.1 L222.6,457.1M225.7,456.3 L226.1,456.2 L226.5,456.1 L226.9,456.0 L227.3,455.9 L227.7,455.8 L228.1,455.7 L228.5,455.6 L228.6,455.6M231.7,454.8 L232.1,454.7 L232.5,454.6 L232.9,454.5 L233.3,454.4 L233.7,454.3 L234.1,454.2 L234.5,454.1 L234.6,454.1M237.7,453.2 L238.1,453.1 L238.5,453.0 L238.9,452.8 L239.3,452.7 L239.7,452.6 L240.1,452.5 L240.5,452.4 L240.6,452.3M243.7,451.5 L244.1,451.5 L244.5,451.4 L244.9,451.3 L245.3,451.3 L245.7,451.2 L246.1,451.2 L246.5,451.1 L246.6,451.1M249.7,450.7 L250.1,450.7 L250.5,450.6 L250.9,450.5 L251.3,450.5 L251.7,450.4 L252.1,450.4 L252.5,450.3 L252.6,450.3M255.7,449.7 L256.1,449.6 L256.5,449.6 L256.9,449.5 L257.3,449.4 L257.7,449.3 L258.1,449.2 L258.5,449.1 L258.6,449.1M261.7,448.1 L262.1,448.0 L262.5,447.9 L262.9,447.7 L263.3,447.6 L263.7,447.5 L264.1,447.4 L264.5,447.2 L264.6,447.2M267.7,445.9 L268.1,445.7 L268.5,445.5 L268.9,445.4 L269.3,445.2 L269.7,445.0 L270.1,444.9 L270.5,444.7 L270.6,444.7M273.7,443.3 L274.1,443.1 L274.5,442.9 L274.9,442.8 L275.3,442.6 L275.7,442.4 L276.1,442.3 L276.5,442.2 L276.6,442.2M279.7,441.7 L280.1,441.6 L280.5,441.6 L280.9,441.5 L281.3,441.5 L281.7,441.4 L282.1,441.3 L282.5,441.3 L282.6,441.3M285.7,440.8 L286.1,440.7 L286.5,440.7 L286.9,440.6 L287.3,440.5 L287.7,440.4 L288.1,440.3 L288.5,440.1 L288.6,440.0M291.7,438.3 L292.1,438.1 L292.5,437.9 L292.9,437.8 L293.3,437.6 L293.7,437.5 L294.1,437.4 L294.5,437.4 L294.6,437.4M297.7,436.7 L298.1,436.7 L298.5,436.6 L298.9,436.5 L299.3,436.4 L299.7,436.2 L300.1,436.1 L300.5,435.9 L300.6,435.8M303.7,434.3 L304.1,434.2 L304.5,434.1 L304.9,434.0 L305.3,434.0 L305.7,434.0 L306.1,434.0 L306.5,434.1 L306.6,434.1M309.7,434.3 L310.1,434.3 L310.5,434.4 L310.9,434.4 L311.3,434.4 L311.7,434.4 L312.1,434.4 L312.5,434.4 L312.6,434.4M315.7,434.4 L316.1,434.4 L316.5,434.4 L316.9,434.4 L317.3,434.4 L317.7,434.4 L318.1,434.4 L318.5,434.4 L318.6,434.4M321.7,434.7 L322.1,434.8 L322.5,434.8 L322.9,434.9 L323.3,435.0 L323.7,435.0 L324.1,435.1 L324.5,435.1 L324.6,435.2M327.7,435.6 L328.1,435.7 L328.5,435.8 L328.9,435.9 L329.3,435.9 L329.7,436.0 L330.1,436.1 L330.5,436.2 L330.6,436.2M333.7,436.9 L334.1,436.9 L334.5,437.0 L334.9,437.1 L335.3,437.1 L335.7,437.2 L336.1,437.2 L336.5,437.2 L336.6,437.2M339.7,438.2 L340.1,438.4 L340.5,438.6 L340.9,438.8 L341.3,439.0 L341.7,439.2 L342.1,439.4 L342.5,439.5 L342.6,439.5M345.7,440.3 L346.1,440.4 L346.5,440.5 L346.9,440.5 L347.3,440.6 L347.7,440.7 L348.1,440.7 L348.5,440.8 L348.6,440.8M351.7,441.3 L352.1,441.4 L352.5,441.4 L352.9,441.5 L353.3,441.6 L353.7,441.6 L354.1,441.7 L354.5,441.7 L354.6,441.8M357.7,442.2 L358.1,442.2 L358.5,442.2 L358.9,442.2 L359.3,442.2 L359.7,442.1 L360.1,442.1 L360.5,442.0 L360.6,442.0M363.7,441.6 L364.1,441.6 L364.5,441.6 L364.9,441.5 L365.3,441.5 L365.7,441.4 L366.1,441.3 L366.5,441.3 L366.6,441.3M369.7,440.8 L370.1,440.7 L370.5,440.7 L370.9,440.6 L371.3,440.6 L371.7,440.6 L372.1,440.5 L372.5,440.5 L372.6,440.5M375.7,440.3 L376.1,440.3 L376.5,440.2 L376.9,440.2 L377.3,440.2 L377.7,440.1 L378.1,440.1 L378.5,440.0 L378.6,440.0M381.7,439.6 L382.1,439.5 L382.5,439.5 L382.9,439.4 L383.3,439.4 L383.7,439.4 L384.1,439.4 L384.5,439.4 L384.6,439.4M387.7,439.4 L388.1,439.4 L388.5,439.4 L388.9,439.4 L389.3,439.4 L389.7,439.4 L390.1,439.4 L390.5,439.4 L390.6,439.4M393.7,439.4 L394.1,439.4 L394.5,439.4 L394.9,439.4 L395.3,439.4 L395.7,439.4 L396.1,439.4 L396.5,439.4 L396.6,439.4M399.7,439.5 L400.1,439.5 L400.5,439.5 L400.9,439.5 L401.3,439.5 L401.7,439.5 L402.1,439.5 L402.5,439.5 L402.6,439.5M405.7,439.6 L406.1,439.6 L406.5,439.6 L406.9,439.6 L407.3,439.6 L407.7,439.6 L408.1,439.6 L408.5,439.6 L408.6,439.6M411.7,439.5 L412.1,439.5 L412.5,439.5 L412.9,439.5 L413.3,439.5 L413.7,439.5 L414.1,439.5 L414.5,439.5 L414.6,439.5M417.7,439.5 L418.1,439.5 L418.5,439.5 L418.9,439.5 L419.3,439.5 L419.7,439.5 L420.1,439.5 L420.5,439.5 L420.6,439.5M423.7,439.5 L424.1,439.5 L424.5,439.5 L424.9,439.5 L425.3,439.5 L425.7,439.5 L426.1,439.5 L426.5,439.5 L426.6,439.5M429.7,439.5 L430.1,439.5 L430.5,439.5 L430.9,439.6 L431.3,439.6 L431.7,439.6 L432.1,439.6 L432.5,439.7 L432.6,439.7M435.7,439.9 L436.1,439.9 L436.5,439.9 L436.9,439.9 L437.3,440.0 L437.7,440.0 L438.1,440.0 L438.5,440.0 L438.6,440.0M441.7,440.3 L442.1,440.3 L442.5,440.4 L442.9,440.4 L443.3,440.5 L443.7,440.6 L444.1,440.8 L444.5,440.9 L444.6,440.9M447.7,442.0 L448.1,442.1 L448.5,442.2 L448.9,442.3 L449.3,442.5 L449.7,442.6 L450.1,442.7 L450.5,442.7 L450.6,442.8M453.7,443.5 L454.1,443.6 L454.5,443.7 L454.9,443.7 L455.3,443.8 L455.7,443.9 L456.1,444.0 L456.5,444.0 L456.6,444.0M459.7,444.3 L460.1,444.4 L460.5,444.4 L460.9,444.5 L461.3,444.5 L461.7,444.6 L462.1,444.7 L462.5,444.7 L462.6,444.8M465.7,445.5 L466.1,445.6 L466.5,445.8 L466.9,445.8 L467.3,445.9 L467.7,446.0 L468.1,446.1 L468.5,446.2 L468.6,446.2M471.7,446.9 L472.1,447.0 L472.5,447.1 L472.9,447.2 L473.3,447.3 L473.7,447.3 L474.1,447.4 L474.5,447.5 L474.6,447.5M477.7,448.1 L478.1,448.1 L478.5,448.2 L478.9,448.3 L479.3,448.3 L479.7,448.4 L480.1,448.4 L480.5,448.4 L480.6,448.4M483.7,448.4 L484.1,448.4 L484.5,448.4 L484.9,448.3 L485.3,448.3 L485.7,448.2 L486.1,448.1 L486.5,447.9 L486.6,447.9M489.7,447.0 L490.1,446.8 L490.5,446.7 L490.9,446.6 L491.3,446.5 L491.7,446.4 L492.1,446.3 L492.5,446.2 L492.6,446.2M495.7,445.6 L496.1,445.6 L496.5,445.5 L496.9,445.4 L497.3,445.3 L497.7,445.2 L498.1,445.1 L498.5,445.0 L498.6,445.0M501.7,444.3 L502.1,444.2 L502.5,444.1 L502.9,444.0 L503.3,443.9 L503.7,443.8 L504.1,443.7 L504.5,443.5 L504.6,443.5M507.7,442.6 L508.1,442.4 L508.5,442.3 L508.9,442.2 L509.3,442.0 L509.7,441.8 L510.1,441.6 L510.5,441.4 L510.6,441.4M513.7,439.5 L514.1,439.3 L514.5,439.1 L514.9,438.9 L515.3,438.6 L515.7,438.4 L516.1,438.2 L516.5,438.0 L516.6,437.9M519.7,436.3 L520.1,436.1 L520.5,435.9 L520.9,435.7 L521.3,435.5 L521.7,435.2 L522.1,434.9 L522.5,434.7 L522.6,434.6M525.7,432.3 L526.1,432.0 L526.5,431.7 L526.9,431.4 L527.3,431.1 L527.7,430.8 L528.1,430.5 L528.5,430.2 L528.6,430.1M531.7,427.6 L532.1,427.2 L532.5,426.9 L532.9,426.6 L533.3,426.3 L533.7,425.9 L534.1,425.6 L534.5,425.3 L534.6,425.2M537.7,422.7 L538.1,422.4 L538.5,422.1 L538.9,421.7 L539.3,421.4 L539.7,421.0 L540.1,420.6 L540.5,420.3 L540.6,420.2M543.7,417.2 L544.1,416.8 L544.5,416.5 L544.9,416.0 L545.3,415.6 L545.7,415.1 L546.1,414.6 L546.3,414.4M548.5,411.2 L548.9,410.7 L549.3,410.1 L549.7,409.6 L550.1,409.0 L550.5,408.5 L550.6,408.4M553.3,405.2 L553.7,404.7 L554.1,404.2 L554.5,403.7 L554.9,403.2 L555.3,402.7 L555.6,402.3M557.8,399.3 L558.2,398.7 L558.6,398.2 L559.0,397.6 L559.4,397.1 L559.8,396.5 L560.0,396.3M562.3,393.2 L562.7,392.7 L563.1,392.2 L563.5,391.7 L563.9,391.1 L564.3,390.6 L564.5,390.3M566.9,387.2 L567.3,386.6 L567.7,386.1 L568.1,385.6 L568.5,385.0 L568.9,384.4 L568.9,384.4M570.9,381.2 L571.3,380.5 L571.7,379.9 L572.1,379.2 L572.5,378.5 L572.6,378.3M574.3,375.1 L574.7,374.4 L575.1,373.7 L575.5,373.0 L575.9,372.4 L576.0,372.3M578.5,369.2 L578.9,368.7 L579.3,368.2 L579.7,367.6 L580.1,367.0 L580.5,366.4 L580.5,366.4M582.2,363.2 L582.6,362.5 L583.0,361.8 L583.4,361.2 L583.8,360.6 L584.0,360.3M586.2,357.1 L586.6,356.6 L587.0,356.0 L587.4,355.4 L587.8,354.9 L588.2,354.3 L588.2,354.3M590.5,351.2 L590.9,350.6 L591.3,350.1 L591.7,349.5 L592.1,349.0 L592.5,348.4 L592.6,348.3M594.8,345.2 L595.2,344.6 L595.6,344.1 L596.0,343.5 L596.4,342.9 L596.8,342.3 L596.8,342.3M598.9,339.2 L599.3,338.6 L599.7,338.1 L600.1,337.5 L600.5,336.9 L600.9,336.3 L600.9,336.3M603.0,333.2 L603.4,332.6 L603.8,332.0 L604.2,331.5 L604.6,330.9 L605.0,330.4 L605.1,330.3M607.7,327.2 L608.1,326.7 L608.5,326.2 L608.9,325.7 L609.3,325.1 L609.7,324.5 L609.8,324.4M611.8,321.2 L612.2,320.6 L612.6,320.0 L613.0,319.3 L613.4,318.7 L613.6,318.3M615.5,315.2 L615.9,314.5 L616.3,313.9 L616.7,313.4 L617.1,312.8 L617.5,312.3 L617.5,312.3M620.2,309.2 L620.6,308.7 L621.0,308.2 L621.4,307.7 L621.8,307.1 L622.2,306.6 L622.4,306.3M624.6,303.2 L625.0,302.7 L625.4,302.1 L625.8,301.5 L626.2,300.9 L626.6,300.3 L626.6,300.3M628.7,297.1 L629.1,296.5 L629.5,295.9 L629.9,295.3 L630.3,294.7 L630.5,294.4M632.5,291.2 L632.9,290.6 L633.3,290.0 L633.7,289.4 L634.1,288.8 L634.4,288.3M636.5,285.2 L636.9,284.6 L637.3,284.0 L637.7,283.5 L638.1,282.9 L638.5,282.3 L638.5,282.3M640.7,279.2 L641.1,278.6 L641.5,278.0 L641.9,277.4 L642.3,276.8 L642.6,276.3M644.4,273.2 L644.8,272.6 L645.2,272.0 L645.6,271.4 L646.0,270.9 L646.4,270.4 L646.5,270.3M649.4,267.2 L649.8,266.8 L650.2,266.4 L650.6,265.9 L651.0,265.4 L651.4,264.9 L651.8,264.4 L651.8,264.4M654.1,261.2 L654.5,260.6 L654.9,260.1 L655.3,259.5 L655.7,259.0 L656.1,258.4 L656.2,258.3M658.5,255.2 L658.9,254.6 L659.3,254.1 L659.7,253.6 L660.1,253.0 L660.5,252.5 L660.6,252.4M663.1,249.2 L663.5,248.7 L663.9,248.2 L664.3,247.7 L664.7,247.2 L665.1,246.7 L665.4,246.3M668.0,243.2 L668.4,242.7 L668.8,242.2 L669.2,241.7 L669.6,241.2 L670.0,240.7 L670.3,240.3M672.7,237.1 L673.1,236.6 L673.5,236.1 L673.9,235.5 L674.3,234.9 L674.7,234.3 L674.7,234.3M676.8,231.2 L677.2,230.7 L677.6,230.2 L678.0,229.7 L678.4,229.3 L678.8,228.8 L679.2,228.4 L679.2,228.4M681.9,225.2 L682.3,224.7 L682.7,224.1 L683.1,223.6 L683.5,223.0 L683.9,222.4 L684.0,222.3M686.1,219.2 L686.5,218.7 L686.9,218.1 L687.3,217.6 L687.7,217.0 L688.1,216.5 L688.2,216.3M690.3,213.2 L690.7,212.7 L691.1,212.2 L691.5,211.7 L691.9,211.3 L692.3,210.8 L692.7,210.3 L692.7,210.3M695.1,207.2 L695.5,206.6 L695.9,206.1 L696.3,205.6 L696.7,205.1 L697.1,204.7 L697.5,204.3 L697.5,204.3M700.6,201.4 L701.0,201.0 L701.4,200.5 L701.8,199.9 L702.2,199.4 L702.6,198.8 L702.8,198.5M705.8,195.4 L706.2,195.0 L706.6,194.6 L707.0,194.2 L707.4,193.8 L707.8,193.4 L708.2,193.0 L708.6,192.6 L708.6,192.6M711.3,189.4 L711.7,189.0 L712.1,188.5 L712.5,188.1 L712.9,187.7 L713.3,187.2 L713.7,186.8 L714.0,186.5M716.8,183.4 L717.2,183.0 L717.6,182.5 L718.0,182.1 L718.4,181.7 L718.8,181.3 L719.2,181.0 L719.6,180.6 L719.6,180.6M722.4,177.5 L722.8,177.1 L723.2,176.7 L723.6,176.4 L724.0,176.1 L724.4,175.9 L724.8,175.7 L725.2,175.5 L725.3,175.4M728.4,173.3 L728.8,173.0 L729.2,172.7 L729.6,172.4 L730.0,172.1 L730.4,171.8 L730.8,171.5 L731.2,171.2 L731.3,171.1M734.4,169.0 L734.8,168.8 L735.2,168.5 L735.6,168.3 L736.0,168.1 L736.4,167.9 L736.8,167.7 L737.2,167.5 L737.3,167.4M740.4,165.9 L740.8,165.7 L741.2,165.5 L741.6,165.3 L742.0,165.1 L742.4,164.9 L742.8,164.7 L743.2,164.5 L743.3,164.5M746.4,162.9 L746.8,162.7 L747.2,162.6 L747.6,162.4 L748.0,162.2 L748.4,162.0 L748.8,161.9 L749.2,161.7 L749.3,161.7M752.4,160.8 L752.8,160.8 L753.2,160.8 L753.6,160.8 L754.0,160.8 L754.4,160.8 L754.8,160.8 L755.2,160.8 L755.3,160.8M758.4,160.8 L758.8,160.8 L759.2,160.8 L759.6,160.9 L760.0,160.9 L760.4,160.9 L760.8,161.0 L761.2,161.0 L761.3,161.0M764.4,161.3 L764.8,161.4 L765.2,161.4 L765.6,161.4 L766.0,161.4 L766.4,161.5 L766.8,161.5 L767.2,161.5 L767.3,161.5M770.4,161.7 L770.8,161.8 L771.2,161.8 L771.6,161.8 L772.0,161.9 L772.4,161.9 L772.8,161.9 L773.2,162.0 L773.3,162.0M776.4,162.2 L776.8,162.3 L777.2,162.4 L777.6,162.4 L778.0,162.5 L778.4,162.7 L778.8,162.8 L779.2,162.9 L779.3,162.9M782.4,163.9 L782.8,164.0 L783.2,164.1 L783.6,164.3 L784.0,164.4 L784.4,164.5 L784.8,164.6 L785.2,164.7 L785.3,164.7M788.4,165.3 L788.8,165.4 L789.2,165.4 L789.6,165.5 L790.0,165.6 L790.4,165.6 L790.8,165.7 L791.2,165.8 L791.3,165.8M794.4,166.2 L794.8,166.2 L795.2,166.3 L795.6,166.3 L796.0,166.4 L796.4,166.4 L796.8,166.4 L797.2,166.5 L797.3,166.5M800.4,166.4 L800.8,166.4 L801.2,166.4 L801.6,166.4 L802.0,166.4 L802.4,166.4 L802.8,166.4 L803.2,166.4 L803.3,166.4M806.4,166.3 L806.8,166.3 L807.2,166.3 L807.6,166.3 L808.0,166.3 L808.4,166.3 L808.8,166.3 L809.2,166.3 L809.3,166.3M812.4,166.4 L812.8,166.4 L813.2,166.5 L813.6,166.5 L814.0,166.5 L814.4,166.5 L814.8,166.5 L815.2,166.5 L815.3,166.5M818.4,166.5 L818.8,166.5 L819.2,166.5 L819.6,166.5 L820.0,166.5 L820.4,166.5 L820.8,166.5 L821.2,166.5 L821.3,166.5M824.4,166.5 L824.8,166.5 L825.2,166.5 L825.6,166.5 L826.0,166.5 L826.4,166.5 L826.8,166.5 L827.2,166.5 L827.3,166.5M830.4,166.4 L830.8,166.4 L831.2,166.3 L831.6,166.3 L832.0,166.3 L832.4,166.3 L832.8,166.3 L833.2,166.3 L833.3,166.3M836.4,166.1 L836.8,166.1 L837.2,166.1 L837.6,166.1 L838.0,166.0 L838.4,166.0 L838.8,166.0 L839.2,166.0 L839.3,166.0M842.4,165.6 L842.8,165.6 L843.2,165.5 L843.6,165.5 L844.0,165.5 L844.4,165.4 L844.8,165.4 L845.2,165.4 L845.3,165.4M848.4,165.2 L848.8,165.2 L849.2,165.2 L849.6,165.2 L850.0,165.1 L850.4,165.1 L850.8,165.0 L851.2,164.9 L851.3,164.9M854.4,163.6 L854.8,163.5 L855.2,163.3 L855.6,163.1 L856.0,163.0 L856.4,162.8 L856.8,162.6 L857.2,162.5 L857.3,162.4M860.4,161.1 L860.8,160.9 L861.2,160.8 L861.6,160.6 L862.0,160.4 L862.4,160.2 L862.8,160.0 L863.2,159.8 L863.3,159.8M866.4,158.2 L866.8,158.0 L867.2,157.8 L867.6,157.6 L868.0,157.4 L868.4,157.2 L868.8,157.0 L869.2,156.7 L869.3,156.7M872.4,154.7 L872.8,154.4 L873.2,154.2 L873.6,153.9 L874.0,153.7 L874.4,153.5 L874.8,153.2 L875.2,153.0 L875.3,153.0M878.4,151.6 L878.8,151.4 L879.2,151.2 L879.6,151.0 L880.0,150.8 L880.4,150.6 L880.8,150.5 L881.2,150.3 L881.3,150.3M884.4,149.5 L884.8,149.3 L885.2,149.2 L885.6,149.1 L886.0,149.0 L886.4,148.9 L886.8,148.8 L887.2,148.8 L887.3,148.8M890.4,148.5 L890.8,148.4 L891.2,148.4 L891.6,148.3 L892.0,148.3 L892.4,148.3 L892.8,148.3 L893.2,148.3 L893.3,148.3M896.4,148.2 L896.8,148.2 L897.2,148.2 L897.6,148.2 L898.0,148.2 L898.4,148.2 L898.8,148.1 L899.2,148.0 L899.3,148.0M902.4,147.2 L902.8,147.0 L903.2,146.9 L903.6,146.8 L904.0,146.7 L904.4,146.6 L904.8,146.5 L905.2,146.4 L905.3,146.4M908.4,145.8 L908.8,145.7 L909.2,145.7 L909.6,145.6 L910.0,145.5 L910.4,145.4 L910.8,145.4 L911.2,145.3 L911.3,145.3M914.4,145.0 L914.8,145.0 L915.2,144.9 L915.6,144.9 L916.0,144.9 L916.4,144.8 L916.8,144.8 L917.2,144.7 L917.3,144.7M920.4,144.1 L920.8,144.0 L921.2,143.9 L921.6,143.9 L922.0,143.8 L922.4,143.7 L922.8,143.7 L923.2,143.7 L923.3,143.7M926.4,143.9 L926.8,143.9 L927.2,143.9 L927.6,144.0 L928.0,144.0 L928.4,144.0 L928.8,144.0 L929.2,144.0 L929.3,144.0M932.4,143.6 L932.8,143.5 L933.2,143.5 L933.6,143.4 L934.0,143.3 L934.4,143.3 L934.8,143.2 L935.2,143.2 L935.3,143.2M938.4,142.9 L938.8,142.8 L939.2,142.8 L939.6,142.8 L940.0,142.7 L940.4,142.7 L940.8,142.6 L941.2,142.6 L941.3,142.6M944.4,142.5 L944.8,142.5 L945.2,142.5 L945.6,142.5 L946.0,142.5 L946.4,142.5 L946.8,142.5 L947.2,142.5 L947.3,142.5M950.4,142.4 L950.8,142.4 L951.2,142.4 L951.6,142.4 L952.0,142.4 L952.4,142.4 L952.8,142.4 L953.2,142.4 L953.3,142.4M956.4,142.4 L956.8,142.4 L957.2,142.4 L957.6,142.4 L958.0,142.4 L958.4,142.4 L958.8,142.4 L959.2,142.4 L959.3,142.4M962.4,142.4 L962.8,142.4 L963.2,142.4 L963.6,142.4 L964.0,142.4 L964.4,142.4 L964.8,142.4 L965.2,142.4 L965.3,142.4" fill="none" stroke="#ff0000" stroke-width="1" shape-rendering="crispEdges"/>
<line x1="909" y1="69.2" x2="977" y2="178.8" stroke="#000" stroke-width="1"/>
<line x1="890" y1="120" x2="973" y2="202.6" stroke="#000" stroke-width="1"/>
<rect x="982" y="0" width="1" height="577" fill="#000"/>
<rect x="983" y="570" width="6" height="1" fill="#000"/>
<text x="1020.6" y="575" text-anchor="end" class="t">75</text>
<rect x="983" y="559" width="3" height="1" fill="#000"/>
<rect x="983" y="548" width="6" height="1" fill="#000"/>
<text x="1020.6" y="553" text-anchor="end" class="t">76</text>
<rect x="983" y="538" width="3" height="1" fill="#000"/>
<rect x="983" y="527" width="6" height="1" fill="#000"/>
<text x="1020.6" y="532" text-anchor="end" class="t">77</text>
<rect x="983" y="517" width="3" height="1" fill="#000"/>
<rect x="983" y="507" width="6" height="1" fill="#000"/>
<text x="1020.6" y="512" text-anchor="end" class="t">78</text>
<rect x="983" y="496" width="3" height="1" fill="#000"/>
<rect x="983" y="486" width="6" height="1" fill="#000"/>
<text x="1020.6" y="491" text-anchor="end" class="t">79</text>
<rect x="983" y="476" width="3" height="1" fill="#000"/>
<rect x="983" y="466" width="6" height="1" fill="#000"/>
<text x="1020.6" y="471" text-anchor="end" class="t">80</text>
<rect x="983" y="456" width="3" height="1" fill="#000"/>
<rect x="983" y="446" width="6" height="1" fill="#000"/>
<text x="1020.6" y="451" text-anchor="end" class="t">81</text>
<rect x="983" y="436" width="3" height="1" fill="#000"/>
<rect x="983" y="426" width="6" height="1" fill="#000"/>
<text x="1020.6" y="431" text-anchor="end" class="t">82</text>
<rect x="983" y="417" width="3" height="1" fill="#000"/>
<rect x="983" y="407" width="6" height="1" fill="#000"/>
<text x="1020.6" y="412" text-anchor="end" class="t">83</text>
<rect x="983" y="397" width="3" height="1" fill="#000"/>
<rect x="983" y="388" width="6" height="1" fill="#000"/>
<text x="1020.6" y="393" text-anchor="end" class="t">84</text>
<rect x="983" y="378" width="3" height="1" fill="#000"/>
<rect x="983" y="369" width="6" height="1" fill="#000"/>
<text x="1020.6" y="374" text-anchor="end" class="t">85</text>
<rect x="983" y="359" width="3" height="1" fill="#000"/>
<rect x="983" y="350" width="6" height="1" fill="#000"/>
<text x="1020.6" y="355" text-anchor="end" class="t">86</text>
<rect x="983" y="340" width="3" height="1" fill="#000"/>
<rect x="983" y="331" width="6" height="1" fill="#000"/>
<text x="1020.6" y="336" text-anchor="end" class="t">87</text>
<rect x="983" y="322" width="3" height="1" fill="#000"/>
<rect x="983" y="313" width="6" height="1" fill="#000"/>
<text x="1020.6" y="318" text-anchor="end" class="t">88</text>
<rect x="983" y="304" width="3" height="1" fill="#000"/>
<rect x="983" y="295" width="6" height="1" fill="#000"/>
<text x="1020.6" y="300" text-anchor="end" class="t">89</text>
<rect x="983" y="286" width="3" height="1" fill="#000"/>
<rect x="983" y="277" width="6" height="1" fill="#000"/>
<text x="1020.6" y="282" text-anchor="end" class="t">90</text>
<rect x="983" y="268" width="3" height="1" fill="#000"/>
<rect x="983" y="259" width="6" height="1" fill="#000"/>
<text x="1020.6" y="264" text-anchor="end" class="t">91</text>
<rect x="983" y="250" width="3" height="1" fill="#000"/>
<rect x="983" y="241" width="6" height="1" fill="#000"/>
<text x="1020.6" y="246" text-anchor="end" class="t">92</text>
<rect x="983" y="233" width="3" height="1" fill="#000"/>
<rect x="983" y="224" width="6" height="1" fill="#000"/>
<text x="1020.6" y="229" text-anchor="end" class="t">93</text>
<rect x="983" y="215" width="3" height="1" fill="#000"/>
<rect x="983" y="207" width="6" height="1" fill="#000"/>
<text x="1020.6" y="212" text-anchor="end" class="t">94</text>
<rect x="983" y="198" width="3" height="1" fill="#000"/>
<rect x="983" y="190" width="6" height="1" fill="#000"/>
<text x="1020.6" y="195" text-anchor="end" class="t">95</text>
<rect x="983" y="181" width="3" height="1" fill="#000"/>
<rect x="983" y="173" width="6" height="1" fill="#000"/>
<text x="1020.6" y="178" text-anchor="end" class="t">96</text>
<rect x="983" y="165" width="3" height="1" fill="#000"/>
<rect x="983" y="156" width="6" height="1" fill="#000"/>
<text x="1020.6" y="161" text-anchor="end" class="t">97</text>
<rect x="983" y="148" width="3" height="1" fill="#000"/>
<rect x="983" y="140" width="6" height="1" fill="#000"/>
<text x="1020.6" y="145" text-anchor="end" class="t">98</text>
<rect x="983" y="132" width="3" height="1" fill="#000"/>
<rect x="983" y="123" width="6" height="1" fill="#000"/>
<text x="1020.6" y="128" text-anchor="end" class="t">99</text>
<rect x="983" y="115" width="3" height="1" fill="#000"/>
<rect x="983" y="107" width="6" height="1" fill="#000"/>
<text x="1020.6" y="112" text-anchor="end" class="t">100</text>
<rect x="983" y="99" width="3" height="1" fill="#000"/>
<rect x="983" y="91" width="6" height="1" fill="#000"/>
<text x="1020.6" y="96" text-anchor="end" class="t">101</text>
<rect x="983" y="83" width="3" height="1" fill="#000"/>
<rect x="983" y="75" width="6" height="1" fill="#000"/>
<text x="1020.6" y="80" text-anchor="end" class="t">102</text>
<rect x="983" y="68" width="3" height="1" fill="#000"/>
<rect x="983" y="60" width="6" height="1" fill="#000"/>
<text x="1020.6" y="65" text-anchor="end" class="t">103</text>
<rect x="983" y="52" width="3" height="1" fill="#000"/>
<rect x="983" y="44" width="6" height="1" fill="#000"/>
<text x="1020.6" y="49" text-anchor="end" class="t">104</text>
<rect x="983" y="37" width="3" height="1" fill="#000"/>
<rect x="983" y="29" width="6" height="1" fill="#000"/>
<text x="1020.6" y="34" text-anchor="end" class="t">105</text>
<rect x="983" y="21" width="3" height="1" fill="#000"/>
<rect x="983" y="14" width="6" height="1" fill="#000"/>
<text x="1020.6" y="19" text-anchor="end" class="t">106</text>
<rect x="983" y="6" width="3" height="1" fill="#000"/>
<rect x="0" y="577" width="982" height="1" fill="#000"/>
<rect x="1" y="577" width="1" height="14" fill="#000"/>
<text x="2.90" y="589" class="t">O</text>
<rect x="13" y="577" width="1" height="14" fill="#000"/>
<text x="14.90" y="589" class="t">N</text>
<rect x="26" y="577" width="1" height="14" fill="#000"/>
<text x="27.90" y="589" class="t">D</text>
<rect x="42" y="577" width="1" height="14" fill="#000"/>
<text x="43.90" y="589" class="t">2012</text>
<rect x="55" y="577" width="1" height="14" fill="#000"/>
<rect x="68" y="577" width="1" height="14" fill="#000"/>
<rect x="84" y="577" width="1" height="14" fill="#000"/>
<text x="85.90" y="589" class="t">A</text>
<rect x="97" y="577" width="1" height="14" fill="#000"/>
<text x="98.90" y="589" class="t">M</text>
<rect x="109" y="577" width="1" height="14" fill="#000"/>
<text x="110.90" y="589" class="t">J</text>
<rect x="125" y="577" width="1" height="14" fill="#000"/>
<text x="126.90" y="589" class="t">J</text>
<rect x="138" y="577" width="1" height="14" fill="#000"/>
<text x="139.90" y="589" class="t">A</text>
<rect x="154" y="577" width="1" height="14" fill="#000"/>
<text x="155.90" y="589" class="t">S</text>
<rect x="167" y="577" width="1" height="14" fill="#000"/>
<text x="168.90" y="589" class="t">O</text>
<rect x="180" y="577" width="1" height="14" fill="#000"/>
<text x="181.90" y="589" class="t">N</text>
<rect x="196" y="577" width="1" height="14" fill="#000"/>
<text x="197.90" y="589" class="t">D</text>
<rect x="209" y="577" width="1" height="14" fill="#000"/>
<text x="210.90" y="589" class="t">2013</text>
<rect x="221" y="577" width="1" height="14" fill="#000"/>
<rect x="234" y="577" width="1" height="14" fill="#000"/>
<rect x="250" y="577" width="1" height="14" fill="#000"/>
<text x="251.90" y="589" class="t">A</text>
<rect x="263" y="577" width="1" height="14" fill="#000"/>
<text x="264.90" y="589" class="t">M</text>
<rect x="279" y="577" width="1" height="14" fill="#000"/>
<text x="280.90" y="589" class="t">J</text>
<rect x="292" y="577" width="1" height="14" fill="#000"/>
<text x="293.90" y="589" class="t">J</text>
<rect x="305" y="577" width="1" height="14" fill="#000"/>
<text x="306.90" y="589" class="t">A</text>
<rect x="321" y="577" width="1" height="14" fill="#000"/>
<text x="322.90" y="589" class="t">S</text>
<rect x="333" y="577" width="1" height="14" fill="#000"/>
<text x="334.90" y="589" class="t">O</text>
<rect x="346" y="577" width="1" height="14" fill="#000"/>
<text x="347.90" y="589" class="t">N</text>
<rect x="362" y="577" width="1" height="14" fill="#000"/>
<text x="363.90" y="589" class="t">D</text>
<rect x="375" y="577" width="1" height="14" fill="#000"/>
<text x="376.90" y="589" class="t">2014</text>
<rect x="391" y="577" width="1" height="14" fill="#000"/>
<rect x="404" y="577" width="1" height="14" fill="#000"/>
<rect x="417" y="577" width="1" height="14" fill="#000"/>
<text x="418.90" y="589" class="t">A</text>
<rect x="429" y="577" width="1" height="14" fill="#000"/>
<text x="430.90" y="589" class="t">M</text>
<rect x="445" y="577" width="1" height="14" fill="#000"/>
<text x="446.90" y="589" class="t">J</text>
<rect x="458" y="577" width="1" height="14" fill="#000"/>
<text x="459.90" y="589" class="t">J</text>
<rect x="471" y="577" width="1" height="14" fill="#000"/>
<text x="472.90" y="589" class="t">A</text>
<rect x="487" y="577" width="1" height="14" fill="#000"/>
<text x="488.90" y="589" class="t">S</text>
<rect x="500" y="577" width="1" height="14" fill="#000"/>
<text x="501.90" y="589" class="t">O</text>
<rect x="516" y="577" width="1" height="14" fill="#000"/>
<text x="517.90" y="589" class="t">N</text>
<rect x="529" y="577" width="1" height="14" fill="#000"/>
<text x="530.90" y="589" class="t">D</text>
<rect x="541" y="577" width="1" height="14" fill="#000"/>
<text x="542.90" y="589" class="t">2015</text>
<rect x="557" y="577" width="1" height="14" fill="#000"/>
<rect x="570" y="577" width="1" height="14" fill="#000"/>
<rect x="583" y="577" width="1" height="14" fill="#000"/>
<text x="584.90" y="589" class="t">A</text>
<rect x="596" y="577" width="1" height="14" fill="#000"/>
<text x="597.90" y="589" class="t">M</text>
<rect x="612" y="577" width="1" height="14" fill="#000"/>
<text x="613.90" y="589" class="t">J</text>
<rect x="625" y="577" width="1" height="14" fill="#000"/>
<text x="626.90" y="589" class="t">J</text>
<rect x="641" y="577" width="1" height="14" fill="#000"/>
<text x="642.90" y="589" class="t">A</text>
<rect x="653" y="577" width="1" height="14" fill="#000"/>
<text x="654.90" y="589" class="t">S</text>
<rect x="666" y="577" width="1" height="14" fill="#000"/>
<text x="667.90" y="589" class="t">O</text>
<rect x="682" y="577" width="1" height="14" fill="#000"/>
<text x="683.90" y="589" class="t">N</text>
<rect x="695" y="577" width="1" height="14" fill="#000"/>
<text x="696.90" y="589" class="t">D</text>
<rect x="711" y="577" width="1" height="14" fill="#000"/>
<text x="712.90" y="589" class="t">2016</text>
<rect x="724" y="577" width="1" height="14" fill="#000"/>
<rect x="737" y="577" width="1" height="14" fill="#000"/>
<rect x="749" y="577" width="1" height="14" fill="#000"/>
<text x="750.90" y="589" class="t">A</text>
<rect x="765" y="577" width="1" height="14" fill="#000"/>
<text x="766.90" y="589" class="t">M</text>
<rect x="778" y="577" width="1" height="14" fill="#000"/>
<text x="779.90" y="589" class="t">J</text>
<rect x="791" y="577" width="1" height="14" fill="#000"/>
<text x="792.90" y="589" class="t">J</text>
<rect x="807" y="577" width="1" height="14" fill="#000"/>
<text x="808.90" y="589" class="t">A</text>
<rect x="820" y="577" width="1" height="14" fill="#000"/>
<text x="821.90" y="589" class="t">S</text>
<rect x="836" y="577" width="1" height="14" fill="#000"/>
<text x="837.90" y="589" class="t">O</text>
<rect x="849" y="577" width="1" height="14" fill="#000"/>
<text x="850.90" y="589" class="t">N</text>
<rect x="861" y="577" width="1" height="14" fill="#000"/>
<text x="862.90" y="589" class="t">D</text>
<rect x="877" y="577" width="1" height="14" fill="#000"/>
<text x="878.90" y="589" class="t">2017</text>
<rect x="890" y="577" width="1" height="14" fill="#000"/>
<rect x="903" y="577" width="1" height="14" fill="#000"/>
<rect x="919" y="577" width="1" height="14" fill="#000"/>
<text x="920.90" y="589" class="t">A</text>
<rect x="932" y="577" width="1" height="14" fill="#000"/>
<text x="933.90" y="589" class="t">M</text>
<rect x="945" y="577" width="1" height="14" fill="#000"/>
<text x="946.90" y="589" class="t">J</text>
<rect x="961" y="577" width="1" height="14" fill="#000"/>
<text x="962.90" y="589" class="t">J</text>
<rect x="973" y="577" width="1" height="14" fill="#000"/>
<text x="974.90" y="589" class="t">A</text>
<text x="329.9" y="12" class="t" textLength="33.5" lengthAdjust="spacing">DOLAR</text>
<text x="366.8" y="12" class="t" textLength="32.1" lengthAdjust="spacing">INDEX</text>
<text x="400" y="12" class="t" textLength="29.7" lengthAdjust="spacing">CONT</text>
<text x="430.5" y="12" class="t" textLength="43.1" lengthAdjust="spacing">(95.7950,</text>
<text x="478.2" y="12" class="t" textLength="38.8" lengthAdjust="spacing">95.9600,</text>
<text x="521.5" y="12" class="t" textLength="39.5" lengthAdjust="spacing">94.8700,</text>
<text x="564.3" y="12" class="t" textLength="39.8" lengthAdjust="spacing">94.9300,</text>
<text x="607.1" y="12" class="t" textLength="43.9" lengthAdjust="spacing">-0.86200)</text>
<text x="525.5" y="456" class="t" fill="#ff0000" style="fill:#ff0000" textLength="33.3" lengthAdjust="spacing">mm 65</text>
</svg>
</body></html>
